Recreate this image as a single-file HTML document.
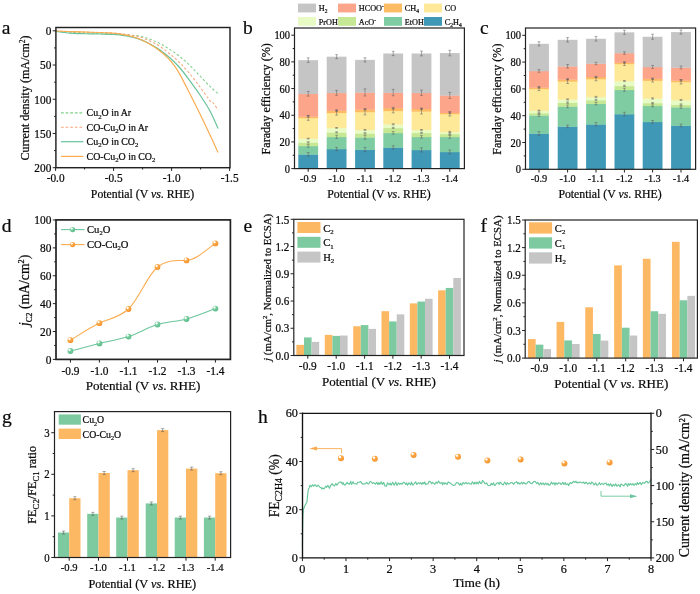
<!DOCTYPE html>
<html><head><meta charset="utf-8"><title>Figure</title>
<style>
html,body{margin:0;padding:0;background:#fff;}
svg{display:block;font-family:'Liberation Serif', 'Times New Roman', serif;}
text{fill:#0a0a0a;stroke:#0a0a0a;stroke-width:0.22px;}
</style></head><body>
<svg width="700" height="594" viewBox="0 0 700 594">
<rect width="700" height="594" fill="#fff"/>
<defs>
<radialGradient id="go" cx="0.34" cy="0.30" r="0.72"><stop offset="0" stop-color="#ffffff"/><stop offset="0.16" stop-color="#ffffff"/><stop offset="0.36" stop-color="#fcab4c"/><stop offset="1" stop-color="#f5932a"/></radialGradient>
<radialGradient id="gg" cx="0.34" cy="0.30" r="0.72"><stop offset="0" stop-color="#ffffff"/><stop offset="0.16" stop-color="#ffffff"/><stop offset="0.36" stop-color="#7ed0a3"/><stop offset="1" stop-color="#58ba88"/></radialGradient>
</defs>
<path d="M55.60,31.20 C58.00,31.37 64.27,31.90 70.00,32.20 C75.73,32.50 82.73,32.77 90.00,33.00 C97.27,33.23 108.60,33.40 113.60,33.60 C118.60,33.80 117.27,33.97 120.00,34.20 C122.73,34.43 126.67,34.67 130.00,35.00 C133.33,35.33 136.67,35.50 140.00,36.20 C143.33,36.90 146.67,37.97 150.00,39.20 C153.33,40.43 156.67,41.87 160.00,43.60 C163.33,45.33 166.67,47.43 170.00,49.60 C173.33,51.77 176.67,53.93 180.00,56.60 C183.33,59.27 186.67,62.37 190.00,65.60 C193.33,68.83 196.67,72.53 200.00,76.00 C203.33,79.47 207.00,83.47 210.00,86.40 C213.00,89.33 216.67,92.40 218.00,93.60" fill="none" stroke="#7fd08a" stroke-width="1.05" stroke-dasharray="2.5,2.0" stroke-linejoin="round"/>
<path d="M55.60,31.00 C58.00,31.10 64.27,31.40 70.00,31.60 C75.73,31.80 82.73,31.97 90.00,32.20 C97.27,32.43 108.60,32.77 113.60,33.00 C118.60,33.23 117.27,33.27 120.00,33.60 C122.73,33.93 126.67,34.43 130.00,35.00 C133.33,35.57 136.67,36.00 140.00,37.00 C143.33,38.00 146.67,39.43 150.00,41.00 C153.33,42.57 156.67,44.23 160.00,46.40 C163.33,48.57 166.67,51.23 170.00,54.00 C173.33,56.77 176.67,59.67 180.00,63.00 C183.33,66.33 186.67,70.00 190.00,74.00 C193.33,78.00 197.00,83.00 200.00,87.00 C203.00,91.00 206.33,95.67 208.00,98.00 C209.67,100.33 209.33,100.42 210.00,101.00 C210.67,101.58 211.33,101.00 212.00,101.50 C212.67,102.00 213.00,102.58 214.00,104.00 C215.00,105.42 217.33,109.00 218.00,110.00" fill="none" stroke="#f7a67c" stroke-width="1.05" stroke-dasharray="2.5,2.0" stroke-linejoin="round"/>
<path d="M55.60,31.40 C56.67,31.53 59.60,31.90 62.00,32.20 C64.40,32.50 67.00,32.97 70.00,33.20 C73.00,33.43 76.67,33.50 80.00,33.60 C83.33,33.70 86.67,33.73 90.00,33.80 C93.33,33.87 96.07,33.90 100.00,34.00 C103.93,34.10 110.27,34.23 113.60,34.40 C116.93,34.57 117.27,34.63 120.00,35.00 C122.73,35.37 126.67,35.87 130.00,36.60 C133.33,37.33 136.67,38.17 140.00,39.40 C143.33,40.63 146.67,42.23 150.00,44.00 C153.33,45.77 156.67,47.67 160.00,50.00 C163.33,52.33 166.67,55.00 170.00,58.00 C173.33,61.00 176.67,64.17 180.00,68.00 C183.33,71.83 186.67,76.50 190.00,81.00 C193.33,85.50 196.67,90.00 200.00,95.00 C203.33,100.00 207.00,105.43 210.00,111.00 C213.00,116.57 216.67,125.50 218.00,128.40" fill="none" stroke="#68c39a" stroke-width="1.2" stroke-linejoin="round"/>
<path d="M55.60,31.00 C58.00,31.10 64.27,31.40 70.00,31.60 C75.73,31.80 84.17,32.00 90.00,32.20 C95.83,32.40 101.07,32.63 105.00,32.80 C108.93,32.97 111.10,33.00 113.60,33.20 C116.10,33.40 117.27,33.53 120.00,34.00 C122.73,34.47 126.67,35.12 130.00,36.00 C133.33,36.88 136.67,37.92 140.00,39.30 C143.33,40.68 146.67,42.35 150.00,44.30 C153.33,46.25 157.00,48.68 160.00,51.00 C163.00,53.32 165.50,55.60 168.00,58.20 C170.50,60.80 173.00,63.87 175.00,66.60 C177.00,69.33 177.50,70.03 180.00,74.60 C182.50,79.17 186.67,87.43 190.00,94.00 C193.33,100.57 196.67,107.17 200.00,114.00 C203.33,120.83 207.00,128.60 210.00,135.00 C213.00,141.40 216.67,149.50 218.00,152.40" fill="none" stroke="#f9ab4e" stroke-width="1.15" stroke-linejoin="round"/>
<rect x="55.90" y="27.50" width="174.10" height="140.20" fill="none" stroke="#222" stroke-width="1.45"/>
<line x1="55.90" y1="30.80" x2="52.70" y2="30.80" stroke="#222" stroke-width="1.0" />
<line x1="55.90" y1="65.03" x2="52.70" y2="65.03" stroke="#222" stroke-width="1.0" />
<line x1="55.90" y1="99.25" x2="52.70" y2="99.25" stroke="#222" stroke-width="1.0" />
<line x1="55.90" y1="133.47" x2="52.70" y2="133.47" stroke="#222" stroke-width="1.0" />
<line x1="55.90" y1="167.70" x2="52.70" y2="167.70" stroke="#222" stroke-width="1.0" />
<line x1="55.90" y1="47.91" x2="54.10" y2="47.91" stroke="#222" stroke-width="1.0" />
<line x1="55.90" y1="82.14" x2="54.10" y2="82.14" stroke="#222" stroke-width="1.0" />
<line x1="55.90" y1="116.36" x2="54.10" y2="116.36" stroke="#222" stroke-width="1.0" />
<line x1="55.90" y1="150.59" x2="54.10" y2="150.59" stroke="#222" stroke-width="1.0" />
<line x1="55.60" y1="167.70" x2="55.60" y2="170.90" stroke="#222" stroke-width="1.0" />
<line x1="113.60" y1="167.70" x2="113.60" y2="170.90" stroke="#222" stroke-width="1.0" />
<line x1="171.60" y1="167.70" x2="171.60" y2="170.90" stroke="#222" stroke-width="1.0" />
<line x1="229.60" y1="167.70" x2="229.60" y2="170.90" stroke="#222" stroke-width="1.0" />
<line x1="84.60" y1="167.70" x2="84.60" y2="169.50" stroke="#222" stroke-width="1.0" />
<line x1="142.60" y1="167.70" x2="142.60" y2="169.50" stroke="#222" stroke-width="1.0" />
<line x1="200.60" y1="167.70" x2="200.60" y2="169.50" stroke="#222" stroke-width="1.0" />
<text transform="translate(51.30 35.10) scale(1 1.12)" font-size="11.3" text-anchor="end" >0</text>
<text transform="translate(51.30 69.33) scale(1 1.12)" font-size="11.3" text-anchor="end" >50</text>
<text transform="translate(51.30 103.55) scale(1 1.12)" font-size="11.3" text-anchor="end" >100</text>
<text transform="translate(51.30 137.78) scale(1 1.12)" font-size="11.3" text-anchor="end" >150</text>
<text transform="translate(51.30 172.00) scale(1 1.12)" font-size="11.3" text-anchor="end" >200</text>
<text transform="translate(55.60 181.90) scale(1 1.07)" font-size="11.3" text-anchor="middle" >-0.0</text>
<text transform="translate(113.60 181.90) scale(1 1.07)" font-size="11.3" text-anchor="middle" >-0.5</text>
<text transform="translate(171.60 181.90) scale(1 1.07)" font-size="11.3" text-anchor="middle" >-1.0</text>
<text transform="translate(229.60 181.90) scale(1 1.07)" font-size="11.3" text-anchor="middle" >-1.5</text>
<text x="142.50" y="197.60" font-size="11.8" text-anchor="middle" >Potential (V <tspan font-style="italic">vs</tspan>. RHE)</text>
<text x="29.20" y="97.90" font-size="12" text-anchor="middle" transform="rotate(-90 29.20 97.90)" >Current density (mA/cm<tspan font-size="7.5" dy="-4.12">2</tspan><tspan dy="4.12">)</tspan></text>
<line x1="61.00" y1="112.90" x2="83.40" y2="112.90" stroke="#7fd08a" stroke-width="1.15" stroke-dasharray="2.8,1.8"/>
<text x="86.60" y="116.20" font-size="9.9" text-anchor="start" >Cu<tspan font-size="6.8" dy="2.38">2</tspan><tspan dy="-2.38">O in Ar</tspan></text>
<line x1="61.00" y1="127.20" x2="83.40" y2="127.20" stroke="#f7a67c" stroke-width="1.15" stroke-dasharray="2.8,1.8"/>
<text x="86.60" y="130.50" font-size="9.9" text-anchor="start" >CO-Cu<tspan font-size="6.8" dy="2.38">2</tspan><tspan dy="-2.38">O in Ar</tspan></text>
<line x1="61.00" y1="141.70" x2="83.40" y2="141.70" stroke="#68c39a" stroke-width="1.2" />
<text x="86.60" y="145.00" font-size="9.9" text-anchor="start" >Cu<tspan font-size="6.8" dy="2.38">2</tspan><tspan dy="-2.38">O in CO</tspan><tspan font-size="6.8" dy="2.38">2</tspan></text>
<line x1="61.00" y1="156.40" x2="83.40" y2="156.40" stroke="#f9ab4e" stroke-width="1.2" />
<text x="86.60" y="159.70" font-size="9.9" text-anchor="start" >CO-Cu<tspan font-size="6.8" dy="2.38">2</tspan><tspan dy="-2.38">O in CO</tspan><tspan font-size="6.8" dy="2.38">2</tspan></text>
<text x="1.80" y="33.80" font-size="19.5" text-anchor="start" >a</text>
<rect x="298.30" y="154.33" width="19.80" height="14.57" fill="#3f98b6"/>
<rect x="298.30" y="145.92" width="19.80" height="8.70" fill="#7fcca3"/>
<rect x="298.30" y="142.32" width="19.80" height="3.90" fill="#c6e793"/>
<rect x="298.30" y="138.59" width="19.80" height="4.04" fill="#e8fbc4"/>
<rect x="298.30" y="117.91" width="19.80" height="20.98" fill="#fee999"/>
<rect x="298.30" y="116.44" width="19.80" height="1.77" fill="#fdbb63"/>
<rect x="298.30" y="93.76" width="19.80" height="22.98" fill="#fca58a"/>
<rect x="298.30" y="60.15" width="19.80" height="33.92" fill="#c5c5c5"/>
<line x1="308.20" y1="152.50" x2="308.20" y2="156.15" stroke="#5a5a5a" stroke-width="0.5" />
<line x1="306.80" y1="152.50" x2="309.60" y2="152.50" stroke="#5a5a5a" stroke-width="0.5" />
<line x1="306.80" y1="156.15" x2="309.60" y2="156.15" stroke="#5a5a5a" stroke-width="0.5" />
<line x1="308.20" y1="144.60" x2="308.20" y2="147.24" stroke="#5a5a5a" stroke-width="0.5" />
<line x1="306.80" y1="144.60" x2="309.60" y2="144.60" stroke="#5a5a5a" stroke-width="0.5" />
<line x1="306.80" y1="147.24" x2="309.60" y2="147.24" stroke="#5a5a5a" stroke-width="0.5" />
<line x1="308.20" y1="141.67" x2="308.20" y2="142.97" stroke="#5a5a5a" stroke-width="0.5" />
<line x1="306.80" y1="141.67" x2="309.60" y2="141.67" stroke="#5a5a5a" stroke-width="0.5" />
<line x1="306.80" y1="142.97" x2="309.60" y2="142.97" stroke="#5a5a5a" stroke-width="0.5" />
<line x1="308.20" y1="138.19" x2="308.20" y2="138.98" stroke="#5a5a5a" stroke-width="0.5" />
<line x1="306.80" y1="138.19" x2="309.60" y2="138.19" stroke="#5a5a5a" stroke-width="0.5" />
<line x1="306.80" y1="138.98" x2="309.60" y2="138.98" stroke="#5a5a5a" stroke-width="0.5" />
<line x1="308.20" y1="115.46" x2="308.20" y2="120.35" stroke="#5a5a5a" stroke-width="0.5" />
<line x1="306.80" y1="115.46" x2="309.60" y2="115.46" stroke="#5a5a5a" stroke-width="0.5" />
<line x1="306.80" y1="120.35" x2="309.60" y2="120.35" stroke="#5a5a5a" stroke-width="0.5" />
<line x1="308.20" y1="115.79" x2="308.20" y2="117.09" stroke="#5a5a5a" stroke-width="0.5" />
<line x1="306.80" y1="115.79" x2="309.60" y2="115.79" stroke="#5a5a5a" stroke-width="0.5" />
<line x1="306.80" y1="117.09" x2="309.60" y2="117.09" stroke="#5a5a5a" stroke-width="0.5" />
<line x1="308.20" y1="91.43" x2="308.20" y2="96.10" stroke="#5a5a5a" stroke-width="0.5" />
<line x1="306.80" y1="91.43" x2="309.60" y2="91.43" stroke="#5a5a5a" stroke-width="0.5" />
<line x1="306.80" y1="96.10" x2="309.60" y2="96.10" stroke="#5a5a5a" stroke-width="0.5" />
<line x1="308.20" y1="57.84" x2="308.20" y2="62.45" stroke="#5a5a5a" stroke-width="0.5" />
<line x1="306.80" y1="57.84" x2="309.60" y2="57.84" stroke="#5a5a5a" stroke-width="0.5" />
<line x1="306.80" y1="62.45" x2="309.60" y2="62.45" stroke="#5a5a5a" stroke-width="0.5" />
<rect x="326.70" y="148.99" width="19.80" height="19.91" fill="#3f98b6"/>
<rect x="326.70" y="136.85" width="19.80" height="12.44" fill="#7fcca3"/>
<rect x="326.70" y="132.32" width="19.80" height="4.84" fill="#c6e793"/>
<rect x="326.70" y="127.91" width="19.80" height="4.70" fill="#e8fbc4"/>
<rect x="326.70" y="112.84" width="19.80" height="15.37" fill="#fee999"/>
<rect x="326.70" y="110.57" width="19.80" height="2.57" fill="#fdbb63"/>
<rect x="326.70" y="92.83" width="19.80" height="18.04" fill="#fca58a"/>
<rect x="326.70" y="56.68" width="19.80" height="36.45" fill="#c5c5c5"/>
<line x1="336.60" y1="147.45" x2="336.60" y2="150.53" stroke="#5a5a5a" stroke-width="0.5" />
<line x1="335.20" y1="147.45" x2="338.00" y2="147.45" stroke="#5a5a5a" stroke-width="0.5" />
<line x1="335.20" y1="150.53" x2="338.00" y2="150.53" stroke="#5a5a5a" stroke-width="0.5" />
<line x1="336.60" y1="135.30" x2="336.60" y2="138.40" stroke="#5a5a5a" stroke-width="0.5" />
<line x1="335.20" y1="135.30" x2="338.00" y2="135.30" stroke="#5a5a5a" stroke-width="0.5" />
<line x1="335.20" y1="138.40" x2="338.00" y2="138.40" stroke="#5a5a5a" stroke-width="0.5" />
<line x1="336.60" y1="131.84" x2="336.60" y2="132.79" stroke="#5a5a5a" stroke-width="0.5" />
<line x1="335.20" y1="131.84" x2="338.00" y2="131.84" stroke="#5a5a5a" stroke-width="0.5" />
<line x1="335.20" y1="132.79" x2="338.00" y2="132.79" stroke="#5a5a5a" stroke-width="0.5" />
<line x1="336.60" y1="127.52" x2="336.60" y2="128.31" stroke="#5a5a5a" stroke-width="0.5" />
<line x1="335.20" y1="127.52" x2="338.00" y2="127.52" stroke="#5a5a5a" stroke-width="0.5" />
<line x1="335.20" y1="128.31" x2="338.00" y2="128.31" stroke="#5a5a5a" stroke-width="0.5" />
<line x1="336.60" y1="110.53" x2="336.60" y2="115.15" stroke="#5a5a5a" stroke-width="0.5" />
<line x1="335.20" y1="110.53" x2="338.00" y2="110.53" stroke="#5a5a5a" stroke-width="0.5" />
<line x1="335.20" y1="115.15" x2="338.00" y2="115.15" stroke="#5a5a5a" stroke-width="0.5" />
<line x1="336.60" y1="109.76" x2="336.60" y2="111.39" stroke="#5a5a5a" stroke-width="0.5" />
<line x1="335.20" y1="109.76" x2="338.00" y2="109.76" stroke="#5a5a5a" stroke-width="0.5" />
<line x1="335.20" y1="111.39" x2="338.00" y2="111.39" stroke="#5a5a5a" stroke-width="0.5" />
<line x1="336.60" y1="90.39" x2="336.60" y2="95.26" stroke="#5a5a5a" stroke-width="0.5" />
<line x1="335.20" y1="90.39" x2="338.00" y2="90.39" stroke="#5a5a5a" stroke-width="0.5" />
<line x1="335.20" y1="95.26" x2="338.00" y2="95.26" stroke="#5a5a5a" stroke-width="0.5" />
<line x1="336.60" y1="54.70" x2="336.60" y2="58.66" stroke="#5a5a5a" stroke-width="0.5" />
<line x1="335.20" y1="54.70" x2="338.00" y2="54.70" stroke="#5a5a5a" stroke-width="0.5" />
<line x1="335.20" y1="58.66" x2="338.00" y2="58.66" stroke="#5a5a5a" stroke-width="0.5" />
<rect x="355.10" y="149.52" width="19.80" height="19.38" fill="#3f98b6"/>
<rect x="355.10" y="137.25" width="19.80" height="12.57" fill="#7fcca3"/>
<rect x="355.10" y="133.25" width="19.80" height="4.30" fill="#c6e793"/>
<rect x="355.10" y="129.91" width="19.80" height="3.64" fill="#e8fbc4"/>
<rect x="355.10" y="111.91" width="19.80" height="18.31" fill="#fee999"/>
<rect x="355.10" y="109.37" width="19.80" height="2.83" fill="#fdbb63"/>
<rect x="355.10" y="92.43" width="19.80" height="17.24" fill="#fca58a"/>
<rect x="355.10" y="59.88" width="19.80" height="32.85" fill="#c5c5c5"/>
<line x1="365.00" y1="147.40" x2="365.00" y2="151.65" stroke="#5a5a5a" stroke-width="0.5" />
<line x1="363.60" y1="147.40" x2="366.40" y2="147.40" stroke="#5a5a5a" stroke-width="0.5" />
<line x1="363.60" y1="151.65" x2="366.40" y2="151.65" stroke="#5a5a5a" stroke-width="0.5" />
<line x1="365.00" y1="135.29" x2="365.00" y2="139.21" stroke="#5a5a5a" stroke-width="0.5" />
<line x1="363.60" y1="135.29" x2="366.40" y2="135.29" stroke="#5a5a5a" stroke-width="0.5" />
<line x1="363.60" y1="139.21" x2="366.40" y2="139.21" stroke="#5a5a5a" stroke-width="0.5" />
<line x1="365.00" y1="132.63" x2="365.00" y2="133.87" stroke="#5a5a5a" stroke-width="0.5" />
<line x1="363.60" y1="132.63" x2="366.40" y2="132.63" stroke="#5a5a5a" stroke-width="0.5" />
<line x1="363.60" y1="133.87" x2="366.40" y2="133.87" stroke="#5a5a5a" stroke-width="0.5" />
<line x1="365.00" y1="129.44" x2="365.00" y2="130.39" stroke="#5a5a5a" stroke-width="0.5" />
<line x1="363.60" y1="129.44" x2="366.40" y2="129.44" stroke="#5a5a5a" stroke-width="0.5" />
<line x1="363.60" y1="130.39" x2="366.40" y2="130.39" stroke="#5a5a5a" stroke-width="0.5" />
<line x1="365.00" y1="108.93" x2="365.00" y2="114.88" stroke="#5a5a5a" stroke-width="0.5" />
<line x1="363.60" y1="108.93" x2="366.40" y2="108.93" stroke="#5a5a5a" stroke-width="0.5" />
<line x1="363.60" y1="114.88" x2="366.40" y2="114.88" stroke="#5a5a5a" stroke-width="0.5" />
<line x1="365.00" y1="108.83" x2="365.00" y2="109.91" stroke="#5a5a5a" stroke-width="0.5" />
<line x1="363.60" y1="108.83" x2="366.40" y2="108.83" stroke="#5a5a5a" stroke-width="0.5" />
<line x1="363.60" y1="109.91" x2="366.40" y2="109.91" stroke="#5a5a5a" stroke-width="0.5" />
<line x1="365.00" y1="88.89" x2="365.00" y2="95.97" stroke="#5a5a5a" stroke-width="0.5" />
<line x1="363.60" y1="88.89" x2="366.40" y2="88.89" stroke="#5a5a5a" stroke-width="0.5" />
<line x1="363.60" y1="95.97" x2="366.40" y2="95.97" stroke="#5a5a5a" stroke-width="0.5" />
<line x1="365.00" y1="57.82" x2="365.00" y2="61.94" stroke="#5a5a5a" stroke-width="0.5" />
<line x1="363.60" y1="57.82" x2="366.40" y2="57.82" stroke="#5a5a5a" stroke-width="0.5" />
<line x1="363.60" y1="61.94" x2="366.40" y2="61.94" stroke="#5a5a5a" stroke-width="0.5" />
<rect x="383.30" y="147.39" width="19.80" height="21.51" fill="#3f98b6"/>
<rect x="383.30" y="132.85" width="19.80" height="14.84" fill="#7fcca3"/>
<rect x="383.30" y="127.91" width="19.80" height="5.24" fill="#c6e793"/>
<rect x="383.30" y="124.31" width="19.80" height="3.90" fill="#e8fbc4"/>
<rect x="383.30" y="110.84" width="19.80" height="13.77" fill="#fee999"/>
<rect x="383.30" y="108.04" width="19.80" height="3.10" fill="#fdbb63"/>
<rect x="383.30" y="92.56" width="19.80" height="15.77" fill="#fca58a"/>
<rect x="383.30" y="53.48" width="19.80" height="39.39" fill="#c5c5c5"/>
<line x1="393.20" y1="145.75" x2="393.20" y2="149.03" stroke="#5a5a5a" stroke-width="0.5" />
<line x1="391.80" y1="145.75" x2="394.60" y2="145.75" stroke="#5a5a5a" stroke-width="0.5" />
<line x1="391.80" y1="149.03" x2="394.60" y2="149.03" stroke="#5a5a5a" stroke-width="0.5" />
<line x1="393.20" y1="131.55" x2="393.20" y2="134.14" stroke="#5a5a5a" stroke-width="0.5" />
<line x1="391.80" y1="131.55" x2="394.60" y2="131.55" stroke="#5a5a5a" stroke-width="0.5" />
<line x1="391.80" y1="134.14" x2="394.60" y2="134.14" stroke="#5a5a5a" stroke-width="0.5" />
<line x1="393.20" y1="127.37" x2="393.20" y2="128.46" stroke="#5a5a5a" stroke-width="0.5" />
<line x1="391.80" y1="127.37" x2="394.60" y2="127.37" stroke="#5a5a5a" stroke-width="0.5" />
<line x1="391.80" y1="128.46" x2="394.60" y2="128.46" stroke="#5a5a5a" stroke-width="0.5" />
<line x1="393.20" y1="123.73" x2="393.20" y2="124.89" stroke="#5a5a5a" stroke-width="0.5" />
<line x1="391.80" y1="123.73" x2="394.60" y2="123.73" stroke="#5a5a5a" stroke-width="0.5" />
<line x1="391.80" y1="124.89" x2="394.60" y2="124.89" stroke="#5a5a5a" stroke-width="0.5" />
<line x1="393.20" y1="108.82" x2="393.20" y2="112.85" stroke="#5a5a5a" stroke-width="0.5" />
<line x1="391.80" y1="108.82" x2="394.60" y2="108.82" stroke="#5a5a5a" stroke-width="0.5" />
<line x1="391.80" y1="112.85" x2="394.60" y2="112.85" stroke="#5a5a5a" stroke-width="0.5" />
<line x1="393.20" y1="107.31" x2="393.20" y2="108.76" stroke="#5a5a5a" stroke-width="0.5" />
<line x1="391.80" y1="107.31" x2="394.60" y2="107.31" stroke="#5a5a5a" stroke-width="0.5" />
<line x1="391.80" y1="108.76" x2="394.60" y2="108.76" stroke="#5a5a5a" stroke-width="0.5" />
<line x1="393.20" y1="89.35" x2="393.20" y2="95.77" stroke="#5a5a5a" stroke-width="0.5" />
<line x1="391.80" y1="89.35" x2="394.60" y2="89.35" stroke="#5a5a5a" stroke-width="0.5" />
<line x1="391.80" y1="95.77" x2="394.60" y2="95.77" stroke="#5a5a5a" stroke-width="0.5" />
<line x1="393.20" y1="51.32" x2="393.20" y2="55.63" stroke="#5a5a5a" stroke-width="0.5" />
<line x1="391.80" y1="51.32" x2="394.60" y2="51.32" stroke="#5a5a5a" stroke-width="0.5" />
<line x1="391.80" y1="55.63" x2="394.60" y2="55.63" stroke="#5a5a5a" stroke-width="0.5" />
<rect x="411.60" y="149.92" width="19.80" height="18.98" fill="#3f98b6"/>
<rect x="411.60" y="136.85" width="19.80" height="13.37" fill="#7fcca3"/>
<rect x="411.60" y="132.85" width="19.80" height="4.30" fill="#c6e793"/>
<rect x="411.60" y="129.91" width="19.80" height="3.23" fill="#e8fbc4"/>
<rect x="411.60" y="111.37" width="19.80" height="18.84" fill="#fee999"/>
<rect x="411.60" y="108.70" width="19.80" height="2.97" fill="#fdbb63"/>
<rect x="411.60" y="92.83" width="19.80" height="16.17" fill="#fca58a"/>
<rect x="411.60" y="53.48" width="19.80" height="39.65" fill="#c5c5c5"/>
<line x1="421.50" y1="147.88" x2="421.50" y2="151.97" stroke="#5a5a5a" stroke-width="0.5" />
<line x1="420.10" y1="147.88" x2="422.90" y2="147.88" stroke="#5a5a5a" stroke-width="0.5" />
<line x1="420.10" y1="151.97" x2="422.90" y2="151.97" stroke="#5a5a5a" stroke-width="0.5" />
<line x1="421.50" y1="135.60" x2="421.50" y2="138.10" stroke="#5a5a5a" stroke-width="0.5" />
<line x1="420.10" y1="135.60" x2="422.90" y2="135.60" stroke="#5a5a5a" stroke-width="0.5" />
<line x1="420.10" y1="138.10" x2="422.90" y2="138.10" stroke="#5a5a5a" stroke-width="0.5" />
<line x1="421.50" y1="132.38" x2="421.50" y2="133.32" stroke="#5a5a5a" stroke-width="0.5" />
<line x1="420.10" y1="132.38" x2="422.90" y2="132.38" stroke="#5a5a5a" stroke-width="0.5" />
<line x1="420.10" y1="133.32" x2="422.90" y2="133.32" stroke="#5a5a5a" stroke-width="0.5" />
<line x1="421.50" y1="129.49" x2="421.50" y2="130.34" stroke="#5a5a5a" stroke-width="0.5" />
<line x1="420.10" y1="129.49" x2="422.90" y2="129.49" stroke="#5a5a5a" stroke-width="0.5" />
<line x1="420.10" y1="130.34" x2="422.90" y2="130.34" stroke="#5a5a5a" stroke-width="0.5" />
<line x1="421.50" y1="108.75" x2="421.50" y2="113.99" stroke="#5a5a5a" stroke-width="0.5" />
<line x1="420.10" y1="108.75" x2="422.90" y2="108.75" stroke="#5a5a5a" stroke-width="0.5" />
<line x1="420.10" y1="113.99" x2="422.90" y2="113.99" stroke="#5a5a5a" stroke-width="0.5" />
<line x1="421.50" y1="108.03" x2="421.50" y2="109.38" stroke="#5a5a5a" stroke-width="0.5" />
<line x1="420.10" y1="108.03" x2="422.90" y2="108.03" stroke="#5a5a5a" stroke-width="0.5" />
<line x1="420.10" y1="109.38" x2="422.90" y2="109.38" stroke="#5a5a5a" stroke-width="0.5" />
<line x1="421.50" y1="90.11" x2="421.50" y2="95.55" stroke="#5a5a5a" stroke-width="0.5" />
<line x1="420.10" y1="90.11" x2="422.90" y2="90.11" stroke="#5a5a5a" stroke-width="0.5" />
<line x1="420.10" y1="95.55" x2="422.90" y2="95.55" stroke="#5a5a5a" stroke-width="0.5" />
<line x1="421.50" y1="51.08" x2="421.50" y2="55.87" stroke="#5a5a5a" stroke-width="0.5" />
<line x1="420.10" y1="51.08" x2="422.90" y2="51.08" stroke="#5a5a5a" stroke-width="0.5" />
<line x1="420.10" y1="55.87" x2="422.90" y2="55.87" stroke="#5a5a5a" stroke-width="0.5" />
<rect x="439.90" y="151.93" width="19.80" height="16.97" fill="#3f98b6"/>
<rect x="439.90" y="136.85" width="19.80" height="15.37" fill="#7fcca3"/>
<rect x="439.90" y="133.92" width="19.80" height="3.23" fill="#c6e793"/>
<rect x="439.90" y="131.91" width="19.80" height="2.30" fill="#e8fbc4"/>
<rect x="439.90" y="113.91" width="19.80" height="18.31" fill="#fee999"/>
<rect x="439.90" y="112.71" width="19.80" height="1.50" fill="#fdbb63"/>
<rect x="439.90" y="95.36" width="19.80" height="17.64" fill="#fca58a"/>
<rect x="439.90" y="53.08" width="19.80" height="42.59" fill="#c5c5c5"/>
<line x1="449.80" y1="149.97" x2="449.80" y2="153.88" stroke="#5a5a5a" stroke-width="0.5" />
<line x1="448.40" y1="149.97" x2="451.20" y2="149.97" stroke="#5a5a5a" stroke-width="0.5" />
<line x1="448.40" y1="153.88" x2="451.20" y2="153.88" stroke="#5a5a5a" stroke-width="0.5" />
<line x1="449.80" y1="135.41" x2="449.80" y2="138.29" stroke="#5a5a5a" stroke-width="0.5" />
<line x1="448.40" y1="135.41" x2="451.20" y2="135.41" stroke="#5a5a5a" stroke-width="0.5" />
<line x1="448.40" y1="138.29" x2="451.20" y2="138.29" stroke="#5a5a5a" stroke-width="0.5" />
<line x1="449.80" y1="133.23" x2="449.80" y2="134.60" stroke="#5a5a5a" stroke-width="0.5" />
<line x1="448.40" y1="133.23" x2="451.20" y2="133.23" stroke="#5a5a5a" stroke-width="0.5" />
<line x1="448.40" y1="134.60" x2="451.20" y2="134.60" stroke="#5a5a5a" stroke-width="0.5" />
<line x1="449.80" y1="131.37" x2="449.80" y2="132.46" stroke="#5a5a5a" stroke-width="0.5" />
<line x1="448.40" y1="131.37" x2="451.20" y2="131.37" stroke="#5a5a5a" stroke-width="0.5" />
<line x1="448.40" y1="132.46" x2="451.20" y2="132.46" stroke="#5a5a5a" stroke-width="0.5" />
<line x1="449.80" y1="111.81" x2="449.80" y2="116.00" stroke="#5a5a5a" stroke-width="0.5" />
<line x1="448.40" y1="111.81" x2="451.20" y2="111.81" stroke="#5a5a5a" stroke-width="0.5" />
<line x1="448.40" y1="116.00" x2="451.20" y2="116.00" stroke="#5a5a5a" stroke-width="0.5" />
<line x1="449.80" y1="111.98" x2="449.80" y2="113.43" stroke="#5a5a5a" stroke-width="0.5" />
<line x1="448.40" y1="111.98" x2="451.20" y2="111.98" stroke="#5a5a5a" stroke-width="0.5" />
<line x1="448.40" y1="113.43" x2="451.20" y2="113.43" stroke="#5a5a5a" stroke-width="0.5" />
<line x1="449.80" y1="92.33" x2="449.80" y2="98.40" stroke="#5a5a5a" stroke-width="0.5" />
<line x1="448.40" y1="92.33" x2="451.20" y2="92.33" stroke="#5a5a5a" stroke-width="0.5" />
<line x1="448.40" y1="98.40" x2="451.20" y2="98.40" stroke="#5a5a5a" stroke-width="0.5" />
<line x1="449.80" y1="50.34" x2="449.80" y2="55.81" stroke="#5a5a5a" stroke-width="0.5" />
<line x1="448.40" y1="50.34" x2="451.20" y2="50.34" stroke="#5a5a5a" stroke-width="0.5" />
<line x1="448.40" y1="55.81" x2="451.20" y2="55.81" stroke="#5a5a5a" stroke-width="0.5" />
<rect x="294.50" y="28.00" width="169.90" height="140.60" fill="none" stroke="#222" stroke-width="1.2"/>
<line x1="294.50" y1="168.60" x2="291.30" y2="168.60" stroke="#222" stroke-width="1.0" />
<line x1="294.50" y1="141.92" x2="291.30" y2="141.92" stroke="#222" stroke-width="1.0" />
<line x1="294.50" y1="115.24" x2="291.30" y2="115.24" stroke="#222" stroke-width="1.0" />
<line x1="294.50" y1="88.56" x2="291.30" y2="88.56" stroke="#222" stroke-width="1.0" />
<line x1="294.50" y1="61.88" x2="291.30" y2="61.88" stroke="#222" stroke-width="1.0" />
<line x1="294.50" y1="35.20" x2="291.30" y2="35.20" stroke="#222" stroke-width="1.0" />
<line x1="294.50" y1="155.26" x2="292.70" y2="155.26" stroke="#222" stroke-width="1.0" />
<line x1="294.50" y1="128.58" x2="292.70" y2="128.58" stroke="#222" stroke-width="1.0" />
<line x1="294.50" y1="101.90" x2="292.70" y2="101.90" stroke="#222" stroke-width="1.0" />
<line x1="294.50" y1="75.22" x2="292.70" y2="75.22" stroke="#222" stroke-width="1.0" />
<line x1="294.50" y1="48.54" x2="292.70" y2="48.54" stroke="#222" stroke-width="1.0" />
<line x1="308.20" y1="168.60" x2="308.20" y2="171.80" stroke="#222" stroke-width="1.0" />
<line x1="336.60" y1="168.60" x2="336.60" y2="171.80" stroke="#222" stroke-width="1.0" />
<line x1="365.00" y1="168.60" x2="365.00" y2="171.80" stroke="#222" stroke-width="1.0" />
<line x1="393.20" y1="168.60" x2="393.20" y2="171.80" stroke="#222" stroke-width="1.0" />
<line x1="421.50" y1="168.60" x2="421.50" y2="171.80" stroke="#222" stroke-width="1.0" />
<line x1="449.80" y1="168.60" x2="449.80" y2="171.80" stroke="#222" stroke-width="1.0" />
<text transform="translate(290.10 172.60) scale(1 1.12)" font-size="10.5" text-anchor="end" >0</text>
<text transform="translate(290.10 145.92) scale(1 1.12)" font-size="10.5" text-anchor="end" >20</text>
<text transform="translate(290.10 119.24) scale(1 1.12)" font-size="10.5" text-anchor="end" >40</text>
<text transform="translate(290.10 92.56) scale(1 1.12)" font-size="10.5" text-anchor="end" >60</text>
<text transform="translate(290.10 65.88) scale(1 1.12)" font-size="10.5" text-anchor="end" >80</text>
<text transform="translate(290.10 39.20) scale(1 1.12)" font-size="10.5" text-anchor="end" >100</text>
<text transform="translate(308.20 181.60) scale(1 1.04)" font-size="10.3" text-anchor="middle" >-0.9</text>
<text transform="translate(336.60 181.60) scale(1 1.04)" font-size="10.3" text-anchor="middle" >-1.0</text>
<text transform="translate(365.00 181.60) scale(1 1.04)" font-size="10.3" text-anchor="middle" >-1.1</text>
<text transform="translate(393.20 181.60) scale(1 1.04)" font-size="10.3" text-anchor="middle" >-1.2</text>
<text transform="translate(421.50 181.60) scale(1 1.04)" font-size="10.3" text-anchor="middle" >-1.3</text>
<text transform="translate(449.80 181.60) scale(1 1.04)" font-size="10.3" text-anchor="middle" >-1.4</text>
<text x="378.95" y="198.20" font-size="11.8" text-anchor="middle" >Potential (V <tspan font-style="italic">vs</tspan>. RHE)</text>
<text x="269.90" y="98.80" font-size="12.1" text-anchor="middle" transform="rotate(-90 269.90 98.80)" >Faraday efficiency (%)</text>
<text x="243.00" y="34.00" font-size="19.5" text-anchor="start" >b</text>
<rect x="298.00" y="3.60" width="18.00" height="8.80" fill="#c5c5c5"/>
<text x="318.80" y="11.20" font-size="8.2" text-anchor="start" >H<tspan font-size="5.5" dy="1.92">2</tspan></text>
<rect x="338.00" y="3.60" width="18.00" height="8.80" fill="#fca58a"/>
<text x="358.80" y="11.20" font-size="8.2" text-anchor="start" >HCOO<tspan font-size="5" dy="-2.75">-</tspan></text>
<rect x="384.00" y="3.60" width="18.00" height="8.80" fill="#fdbb63"/>
<text x="404.80" y="11.20" font-size="8.2" text-anchor="start" >CH<tspan font-size="5.5" dy="1.92">4</tspan></text>
<rect x="424.00" y="3.60" width="18.00" height="8.80" fill="#fee999"/>
<text x="444.80" y="11.20" font-size="8.2" text-anchor="start" >CO</text>
<rect x="298.00" y="17.00" width="18.00" height="8.80" fill="#e8fbc4"/>
<text x="318.80" y="24.60" font-size="8.2" text-anchor="start" >PrOH</text>
<rect x="338.00" y="17.00" width="18.00" height="8.80" fill="#c6e793"/>
<text x="358.80" y="24.60" font-size="8.2" text-anchor="start" >AcO<tspan font-size="5" dy="-2.75">-</tspan></text>
<rect x="384.00" y="17.00" width="18.00" height="8.80" fill="#7fcca3"/>
<text x="404.80" y="24.60" font-size="8.2" text-anchor="start" >EtOH</text>
<rect x="424.00" y="17.00" width="18.00" height="8.80" fill="#3f98b6"/>
<text x="444.80" y="24.60" font-size="8.2" text-anchor="start" >C<tspan font-size="5.5" dy="1.92">2</tspan><tspan dy="-1.92">H</tspan><tspan font-size="5.5" dy="1.92">4</tspan></text>
<rect x="529.10" y="133.48" width="19.80" height="36.12" fill="#3f98b6"/>
<rect x="529.10" y="115.31" width="19.80" height="18.47" fill="#7fcca3"/>
<rect x="529.10" y="113.04" width="19.80" height="2.57" fill="#c6e793"/>
<rect x="529.10" y="110.63" width="19.80" height="2.70" fill="#e8fbc4"/>
<rect x="529.10" y="88.86" width="19.80" height="22.08" fill="#fee999"/>
<rect x="529.10" y="87.39" width="19.80" height="1.77" fill="#fdbb63"/>
<rect x="529.10" y="70.96" width="19.80" height="16.73" fill="#fca58a"/>
<rect x="529.10" y="43.83" width="19.80" height="27.42" fill="#c5c5c5"/>
<line x1="539.00" y1="131.59" x2="539.00" y2="135.38" stroke="#5a5a5a" stroke-width="0.5" />
<line x1="537.60" y1="131.59" x2="540.40" y2="131.59" stroke="#5a5a5a" stroke-width="0.5" />
<line x1="537.60" y1="135.38" x2="540.40" y2="135.38" stroke="#5a5a5a" stroke-width="0.5" />
<line x1="539.00" y1="114.24" x2="539.00" y2="116.38" stroke="#5a5a5a" stroke-width="0.5" />
<line x1="537.60" y1="114.24" x2="540.40" y2="114.24" stroke="#5a5a5a" stroke-width="0.5" />
<line x1="537.60" y1="116.38" x2="540.40" y2="116.38" stroke="#5a5a5a" stroke-width="0.5" />
<line x1="539.00" y1="112.30" x2="539.00" y2="113.78" stroke="#5a5a5a" stroke-width="0.5" />
<line x1="537.60" y1="112.30" x2="540.40" y2="112.30" stroke="#5a5a5a" stroke-width="0.5" />
<line x1="537.60" y1="113.78" x2="540.40" y2="113.78" stroke="#5a5a5a" stroke-width="0.5" />
<line x1="539.00" y1="110.23" x2="539.00" y2="111.04" stroke="#5a5a5a" stroke-width="0.5" />
<line x1="537.60" y1="110.23" x2="540.40" y2="110.23" stroke="#5a5a5a" stroke-width="0.5" />
<line x1="537.60" y1="111.04" x2="540.40" y2="111.04" stroke="#5a5a5a" stroke-width="0.5" />
<line x1="539.00" y1="87.13" x2="539.00" y2="90.58" stroke="#5a5a5a" stroke-width="0.5" />
<line x1="537.60" y1="87.13" x2="540.40" y2="87.13" stroke="#5a5a5a" stroke-width="0.5" />
<line x1="537.60" y1="90.58" x2="540.40" y2="90.58" stroke="#5a5a5a" stroke-width="0.5" />
<line x1="539.00" y1="86.71" x2="539.00" y2="88.07" stroke="#5a5a5a" stroke-width="0.5" />
<line x1="537.60" y1="86.71" x2="540.40" y2="86.71" stroke="#5a5a5a" stroke-width="0.5" />
<line x1="537.60" y1="88.07" x2="540.40" y2="88.07" stroke="#5a5a5a" stroke-width="0.5" />
<line x1="539.00" y1="69.63" x2="539.00" y2="72.28" stroke="#5a5a5a" stroke-width="0.5" />
<line x1="537.60" y1="69.63" x2="540.40" y2="69.63" stroke="#5a5a5a" stroke-width="0.5" />
<line x1="537.60" y1="72.28" x2="540.40" y2="72.28" stroke="#5a5a5a" stroke-width="0.5" />
<line x1="539.00" y1="41.75" x2="539.00" y2="45.92" stroke="#5a5a5a" stroke-width="0.5" />
<line x1="537.60" y1="41.75" x2="540.40" y2="41.75" stroke="#5a5a5a" stroke-width="0.5" />
<line x1="537.60" y1="45.92" x2="540.40" y2="45.92" stroke="#5a5a5a" stroke-width="0.5" />
<rect x="557.70" y="126.40" width="19.80" height="43.20" fill="#3f98b6"/>
<rect x="557.70" y="106.36" width="19.80" height="20.34" fill="#7fcca3"/>
<rect x="557.70" y="102.62" width="19.80" height="4.04" fill="#c6e793"/>
<rect x="557.70" y="99.41" width="19.80" height="3.51" fill="#e8fbc4"/>
<rect x="557.70" y="81.38" width="19.80" height="18.34" fill="#fee999"/>
<rect x="557.70" y="79.37" width="19.80" height="2.30" fill="#fdbb63"/>
<rect x="557.70" y="66.28" width="19.80" height="13.39" fill="#fca58a"/>
<rect x="557.70" y="39.83" width="19.80" height="26.75" fill="#c5c5c5"/>
<line x1="567.60" y1="125.09" x2="567.60" y2="127.71" stroke="#5a5a5a" stroke-width="0.5" />
<line x1="566.20" y1="125.09" x2="569.00" y2="125.09" stroke="#5a5a5a" stroke-width="0.5" />
<line x1="566.20" y1="127.71" x2="569.00" y2="127.71" stroke="#5a5a5a" stroke-width="0.5" />
<line x1="567.60" y1="105.06" x2="567.60" y2="107.66" stroke="#5a5a5a" stroke-width="0.5" />
<line x1="566.20" y1="105.06" x2="569.00" y2="105.06" stroke="#5a5a5a" stroke-width="0.5" />
<line x1="566.20" y1="107.66" x2="569.00" y2="107.66" stroke="#5a5a5a" stroke-width="0.5" />
<line x1="567.60" y1="101.94" x2="567.60" y2="103.30" stroke="#5a5a5a" stroke-width="0.5" />
<line x1="566.20" y1="101.94" x2="569.00" y2="101.94" stroke="#5a5a5a" stroke-width="0.5" />
<line x1="566.20" y1="103.30" x2="569.00" y2="103.30" stroke="#5a5a5a" stroke-width="0.5" />
<line x1="567.60" y1="98.89" x2="567.60" y2="99.93" stroke="#5a5a5a" stroke-width="0.5" />
<line x1="566.20" y1="98.89" x2="569.00" y2="98.89" stroke="#5a5a5a" stroke-width="0.5" />
<line x1="566.20" y1="99.93" x2="569.00" y2="99.93" stroke="#5a5a5a" stroke-width="0.5" />
<line x1="567.60" y1="79.24" x2="567.60" y2="83.51" stroke="#5a5a5a" stroke-width="0.5" />
<line x1="566.20" y1="79.24" x2="569.00" y2="79.24" stroke="#5a5a5a" stroke-width="0.5" />
<line x1="566.20" y1="83.51" x2="569.00" y2="83.51" stroke="#5a5a5a" stroke-width="0.5" />
<line x1="567.60" y1="78.83" x2="567.60" y2="79.92" stroke="#5a5a5a" stroke-width="0.5" />
<line x1="566.20" y1="78.83" x2="569.00" y2="78.83" stroke="#5a5a5a" stroke-width="0.5" />
<line x1="566.20" y1="79.92" x2="569.00" y2="79.92" stroke="#5a5a5a" stroke-width="0.5" />
<line x1="567.60" y1="64.52" x2="567.60" y2="68.04" stroke="#5a5a5a" stroke-width="0.5" />
<line x1="566.20" y1="64.52" x2="569.00" y2="64.52" stroke="#5a5a5a" stroke-width="0.5" />
<line x1="566.20" y1="68.04" x2="569.00" y2="68.04" stroke="#5a5a5a" stroke-width="0.5" />
<line x1="567.60" y1="37.63" x2="567.60" y2="42.03" stroke="#5a5a5a" stroke-width="0.5" />
<line x1="566.20" y1="37.63" x2="569.00" y2="37.63" stroke="#5a5a5a" stroke-width="0.5" />
<line x1="566.20" y1="42.03" x2="569.00" y2="42.03" stroke="#5a5a5a" stroke-width="0.5" />
<rect x="586.10" y="124.26" width="19.80" height="45.34" fill="#3f98b6"/>
<rect x="586.10" y="103.69" width="19.80" height="20.87" fill="#7fcca3"/>
<rect x="586.10" y="100.08" width="19.80" height="3.91" fill="#c6e793"/>
<rect x="586.10" y="97.01" width="19.80" height="3.37" fill="#e8fbc4"/>
<rect x="586.10" y="78.97" width="19.80" height="18.34" fill="#fee999"/>
<rect x="586.10" y="76.97" width="19.80" height="2.30" fill="#fdbb63"/>
<rect x="586.10" y="63.47" width="19.80" height="13.79" fill="#fca58a"/>
<rect x="586.10" y="38.76" width="19.80" height="25.02" fill="#c5c5c5"/>
<line x1="596.00" y1="122.49" x2="596.00" y2="126.03" stroke="#5a5a5a" stroke-width="0.5" />
<line x1="594.60" y1="122.49" x2="597.40" y2="122.49" stroke="#5a5a5a" stroke-width="0.5" />
<line x1="594.60" y1="126.03" x2="597.40" y2="126.03" stroke="#5a5a5a" stroke-width="0.5" />
<line x1="596.00" y1="102.51" x2="596.00" y2="104.86" stroke="#5a5a5a" stroke-width="0.5" />
<line x1="594.60" y1="102.51" x2="597.40" y2="102.51" stroke="#5a5a5a" stroke-width="0.5" />
<line x1="594.60" y1="104.86" x2="597.40" y2="104.86" stroke="#5a5a5a" stroke-width="0.5" />
<line x1="596.00" y1="99.38" x2="596.00" y2="100.78" stroke="#5a5a5a" stroke-width="0.5" />
<line x1="594.60" y1="99.38" x2="597.40" y2="99.38" stroke="#5a5a5a" stroke-width="0.5" />
<line x1="594.60" y1="100.78" x2="597.40" y2="100.78" stroke="#5a5a5a" stroke-width="0.5" />
<line x1="596.00" y1="96.40" x2="596.00" y2="97.62" stroke="#5a5a5a" stroke-width="0.5" />
<line x1="594.60" y1="96.40" x2="597.40" y2="96.40" stroke="#5a5a5a" stroke-width="0.5" />
<line x1="594.60" y1="97.62" x2="597.40" y2="97.62" stroke="#5a5a5a" stroke-width="0.5" />
<line x1="596.00" y1="77.19" x2="596.00" y2="80.75" stroke="#5a5a5a" stroke-width="0.5" />
<line x1="594.60" y1="77.19" x2="597.40" y2="77.19" stroke="#5a5a5a" stroke-width="0.5" />
<line x1="594.60" y1="80.75" x2="597.40" y2="80.75" stroke="#5a5a5a" stroke-width="0.5" />
<line x1="596.00" y1="76.32" x2="596.00" y2="77.62" stroke="#5a5a5a" stroke-width="0.5" />
<line x1="594.60" y1="76.32" x2="597.40" y2="76.32" stroke="#5a5a5a" stroke-width="0.5" />
<line x1="594.60" y1="77.62" x2="597.40" y2="77.62" stroke="#5a5a5a" stroke-width="0.5" />
<line x1="596.00" y1="62.23" x2="596.00" y2="64.72" stroke="#5a5a5a" stroke-width="0.5" />
<line x1="594.60" y1="62.23" x2="597.40" y2="62.23" stroke="#5a5a5a" stroke-width="0.5" />
<line x1="594.60" y1="64.72" x2="597.40" y2="64.72" stroke="#5a5a5a" stroke-width="0.5" />
<line x1="596.00" y1="36.45" x2="596.00" y2="41.07" stroke="#5a5a5a" stroke-width="0.5" />
<line x1="594.60" y1="36.45" x2="597.40" y2="36.45" stroke="#5a5a5a" stroke-width="0.5" />
<line x1="594.60" y1="41.07" x2="597.40" y2="41.07" stroke="#5a5a5a" stroke-width="0.5" />
<rect x="614.50" y="114.11" width="19.80" height="55.49" fill="#3f98b6"/>
<rect x="614.50" y="89.79" width="19.80" height="24.62" fill="#7fcca3"/>
<rect x="614.50" y="85.92" width="19.80" height="4.17" fill="#c6e793"/>
<rect x="614.50" y="80.98" width="19.80" height="5.24" fill="#e8fbc4"/>
<rect x="614.50" y="63.87" width="19.80" height="17.40" fill="#fee999"/>
<rect x="614.50" y="62.54" width="19.80" height="1.64" fill="#fdbb63"/>
<rect x="614.50" y="53.05" width="19.80" height="9.79" fill="#fca58a"/>
<rect x="614.50" y="32.35" width="19.80" height="21.01" fill="#c5c5c5"/>
<line x1="624.40" y1="112.28" x2="624.40" y2="115.93" stroke="#5a5a5a" stroke-width="0.5" />
<line x1="623.00" y1="112.28" x2="625.80" y2="112.28" stroke="#5a5a5a" stroke-width="0.5" />
<line x1="623.00" y1="115.93" x2="625.80" y2="115.93" stroke="#5a5a5a" stroke-width="0.5" />
<line x1="624.40" y1="88.30" x2="624.40" y2="91.29" stroke="#5a5a5a" stroke-width="0.5" />
<line x1="623.00" y1="88.30" x2="625.80" y2="88.30" stroke="#5a5a5a" stroke-width="0.5" />
<line x1="623.00" y1="91.29" x2="625.80" y2="91.29" stroke="#5a5a5a" stroke-width="0.5" />
<line x1="624.40" y1="85.22" x2="624.40" y2="86.62" stroke="#5a5a5a" stroke-width="0.5" />
<line x1="623.00" y1="85.22" x2="625.80" y2="85.22" stroke="#5a5a5a" stroke-width="0.5" />
<line x1="623.00" y1="86.62" x2="625.80" y2="86.62" stroke="#5a5a5a" stroke-width="0.5" />
<line x1="624.40" y1="80.53" x2="624.40" y2="81.42" stroke="#5a5a5a" stroke-width="0.5" />
<line x1="623.00" y1="80.53" x2="625.80" y2="80.53" stroke="#5a5a5a" stroke-width="0.5" />
<line x1="623.00" y1="81.42" x2="625.80" y2="81.42" stroke="#5a5a5a" stroke-width="0.5" />
<line x1="624.40" y1="62.18" x2="624.40" y2="65.57" stroke="#5a5a5a" stroke-width="0.5" />
<line x1="623.00" y1="62.18" x2="625.80" y2="62.18" stroke="#5a5a5a" stroke-width="0.5" />
<line x1="623.00" y1="65.57" x2="625.80" y2="65.57" stroke="#5a5a5a" stroke-width="0.5" />
<line x1="624.40" y1="61.89" x2="624.40" y2="63.19" stroke="#5a5a5a" stroke-width="0.5" />
<line x1="623.00" y1="61.89" x2="625.80" y2="61.89" stroke="#5a5a5a" stroke-width="0.5" />
<line x1="623.00" y1="63.19" x2="625.80" y2="63.19" stroke="#5a5a5a" stroke-width="0.5" />
<line x1="624.40" y1="51.84" x2="624.40" y2="54.27" stroke="#5a5a5a" stroke-width="0.5" />
<line x1="623.00" y1="51.84" x2="625.80" y2="51.84" stroke="#5a5a5a" stroke-width="0.5" />
<line x1="623.00" y1="54.27" x2="625.80" y2="54.27" stroke="#5a5a5a" stroke-width="0.5" />
<line x1="624.40" y1="30.29" x2="624.40" y2="34.40" stroke="#5a5a5a" stroke-width="0.5" />
<line x1="623.00" y1="30.29" x2="625.80" y2="30.29" stroke="#5a5a5a" stroke-width="0.5" />
<line x1="623.00" y1="34.40" x2="625.80" y2="34.40" stroke="#5a5a5a" stroke-width="0.5" />
<rect x="642.70" y="121.86" width="19.80" height="47.74" fill="#3f98b6"/>
<rect x="642.70" y="105.83" width="19.80" height="16.33" fill="#7fcca3"/>
<rect x="642.70" y="103.02" width="19.80" height="3.11" fill="#c6e793"/>
<rect x="642.70" y="98.48" width="19.80" height="4.84" fill="#e8fbc4"/>
<rect x="642.70" y="80.57" width="19.80" height="18.20" fill="#fee999"/>
<rect x="642.70" y="78.57" width="19.80" height="2.30" fill="#fdbb63"/>
<rect x="642.70" y="66.95" width="19.80" height="11.92" fill="#fca58a"/>
<rect x="642.70" y="36.75" width="19.80" height="30.49" fill="#c5c5c5"/>
<line x1="652.60" y1="120.44" x2="652.60" y2="123.28" stroke="#5a5a5a" stroke-width="0.5" />
<line x1="651.20" y1="120.44" x2="654.00" y2="120.44" stroke="#5a5a5a" stroke-width="0.5" />
<line x1="651.20" y1="123.28" x2="654.00" y2="123.28" stroke="#5a5a5a" stroke-width="0.5" />
<line x1="652.60" y1="104.85" x2="652.60" y2="106.80" stroke="#5a5a5a" stroke-width="0.5" />
<line x1="651.20" y1="104.85" x2="654.00" y2="104.85" stroke="#5a5a5a" stroke-width="0.5" />
<line x1="651.20" y1="106.80" x2="654.00" y2="106.80" stroke="#5a5a5a" stroke-width="0.5" />
<line x1="652.60" y1="102.55" x2="652.60" y2="103.49" stroke="#5a5a5a" stroke-width="0.5" />
<line x1="651.20" y1="102.55" x2="654.00" y2="102.55" stroke="#5a5a5a" stroke-width="0.5" />
<line x1="651.20" y1="103.49" x2="654.00" y2="103.49" stroke="#5a5a5a" stroke-width="0.5" />
<line x1="652.60" y1="97.91" x2="652.60" y2="99.04" stroke="#5a5a5a" stroke-width="0.5" />
<line x1="651.20" y1="97.91" x2="654.00" y2="97.91" stroke="#5a5a5a" stroke-width="0.5" />
<line x1="651.20" y1="99.04" x2="654.00" y2="99.04" stroke="#5a5a5a" stroke-width="0.5" />
<line x1="652.60" y1="79.11" x2="652.60" y2="82.04" stroke="#5a5a5a" stroke-width="0.5" />
<line x1="651.20" y1="79.11" x2="654.00" y2="79.11" stroke="#5a5a5a" stroke-width="0.5" />
<line x1="651.20" y1="82.04" x2="654.00" y2="82.04" stroke="#5a5a5a" stroke-width="0.5" />
<line x1="652.60" y1="78.05" x2="652.60" y2="79.10" stroke="#5a5a5a" stroke-width="0.5" />
<line x1="651.20" y1="78.05" x2="654.00" y2="78.05" stroke="#5a5a5a" stroke-width="0.5" />
<line x1="651.20" y1="79.10" x2="654.00" y2="79.10" stroke="#5a5a5a" stroke-width="0.5" />
<line x1="652.60" y1="65.43" x2="652.60" y2="68.46" stroke="#5a5a5a" stroke-width="0.5" />
<line x1="651.20" y1="65.43" x2="654.00" y2="65.43" stroke="#5a5a5a" stroke-width="0.5" />
<line x1="651.20" y1="68.46" x2="654.00" y2="68.46" stroke="#5a5a5a" stroke-width="0.5" />
<line x1="652.60" y1="34.26" x2="652.60" y2="39.24" stroke="#5a5a5a" stroke-width="0.5" />
<line x1="651.20" y1="34.26" x2="654.00" y2="34.26" stroke="#5a5a5a" stroke-width="0.5" />
<line x1="651.20" y1="39.24" x2="654.00" y2="39.24" stroke="#5a5a5a" stroke-width="0.5" />
<rect x="671.10" y="125.46" width="19.80" height="44.14" fill="#3f98b6"/>
<rect x="671.10" y="107.16" width="19.80" height="18.60" fill="#7fcca3"/>
<rect x="671.10" y="104.49" width="19.80" height="2.97" fill="#c6e793"/>
<rect x="671.10" y="100.08" width="19.80" height="4.71" fill="#e8fbc4"/>
<rect x="671.10" y="81.91" width="19.80" height="18.47" fill="#fee999"/>
<rect x="671.10" y="80.31" width="19.80" height="1.90" fill="#fdbb63"/>
<rect x="671.10" y="67.48" width="19.80" height="13.13" fill="#fca58a"/>
<rect x="671.10" y="32.08" width="19.80" height="35.70" fill="#c5c5c5"/>
<line x1="681.00" y1="124.12" x2="681.00" y2="126.81" stroke="#5a5a5a" stroke-width="0.5" />
<line x1="679.60" y1="124.12" x2="682.40" y2="124.12" stroke="#5a5a5a" stroke-width="0.5" />
<line x1="679.60" y1="126.81" x2="682.40" y2="126.81" stroke="#5a5a5a" stroke-width="0.5" />
<line x1="681.00" y1="105.99" x2="681.00" y2="108.33" stroke="#5a5a5a" stroke-width="0.5" />
<line x1="679.60" y1="105.99" x2="682.40" y2="105.99" stroke="#5a5a5a" stroke-width="0.5" />
<line x1="679.60" y1="108.33" x2="682.40" y2="108.33" stroke="#5a5a5a" stroke-width="0.5" />
<line x1="681.00" y1="103.87" x2="681.00" y2="105.10" stroke="#5a5a5a" stroke-width="0.5" />
<line x1="679.60" y1="103.87" x2="682.40" y2="103.87" stroke="#5a5a5a" stroke-width="0.5" />
<line x1="679.60" y1="105.10" x2="682.40" y2="105.10" stroke="#5a5a5a" stroke-width="0.5" />
<line x1="681.00" y1="99.48" x2="681.00" y2="100.68" stroke="#5a5a5a" stroke-width="0.5" />
<line x1="679.60" y1="99.48" x2="682.40" y2="99.48" stroke="#5a5a5a" stroke-width="0.5" />
<line x1="679.60" y1="100.68" x2="682.40" y2="100.68" stroke="#5a5a5a" stroke-width="0.5" />
<line x1="681.00" y1="79.82" x2="681.00" y2="84.00" stroke="#5a5a5a" stroke-width="0.5" />
<line x1="679.60" y1="79.82" x2="682.40" y2="79.82" stroke="#5a5a5a" stroke-width="0.5" />
<line x1="679.60" y1="84.00" x2="682.40" y2="84.00" stroke="#5a5a5a" stroke-width="0.5" />
<line x1="681.00" y1="79.60" x2="681.00" y2="81.02" stroke="#5a5a5a" stroke-width="0.5" />
<line x1="679.60" y1="79.60" x2="682.40" y2="79.60" stroke="#5a5a5a" stroke-width="0.5" />
<line x1="679.60" y1="81.02" x2="682.40" y2="81.02" stroke="#5a5a5a" stroke-width="0.5" />
<line x1="681.00" y1="66.06" x2="681.00" y2="68.90" stroke="#5a5a5a" stroke-width="0.5" />
<line x1="679.60" y1="66.06" x2="682.40" y2="66.06" stroke="#5a5a5a" stroke-width="0.5" />
<line x1="679.60" y1="68.90" x2="682.40" y2="68.90" stroke="#5a5a5a" stroke-width="0.5" />
<line x1="681.00" y1="30.07" x2="681.00" y2="34.09" stroke="#5a5a5a" stroke-width="0.5" />
<line x1="679.60" y1="30.07" x2="682.40" y2="30.07" stroke="#5a5a5a" stroke-width="0.5" />
<line x1="679.60" y1="34.09" x2="682.40" y2="34.09" stroke="#5a5a5a" stroke-width="0.5" />
<rect x="525.50" y="28.00" width="170.10" height="141.30" fill="none" stroke="#222" stroke-width="1.2"/>
<line x1="525.50" y1="169.30" x2="522.30" y2="169.30" stroke="#222" stroke-width="1.0" />
<line x1="525.50" y1="142.50" x2="522.30" y2="142.50" stroke="#222" stroke-width="1.0" />
<line x1="525.50" y1="115.70" x2="522.30" y2="115.70" stroke="#222" stroke-width="1.0" />
<line x1="525.50" y1="88.90" x2="522.30" y2="88.90" stroke="#222" stroke-width="1.0" />
<line x1="525.50" y1="62.10" x2="522.30" y2="62.10" stroke="#222" stroke-width="1.0" />
<line x1="525.50" y1="35.30" x2="522.30" y2="35.30" stroke="#222" stroke-width="1.0" />
<line x1="525.50" y1="155.90" x2="523.70" y2="155.90" stroke="#222" stroke-width="1.0" />
<line x1="525.50" y1="129.10" x2="523.70" y2="129.10" stroke="#222" stroke-width="1.0" />
<line x1="525.50" y1="102.30" x2="523.70" y2="102.30" stroke="#222" stroke-width="1.0" />
<line x1="525.50" y1="75.50" x2="523.70" y2="75.50" stroke="#222" stroke-width="1.0" />
<line x1="525.50" y1="48.70" x2="523.70" y2="48.70" stroke="#222" stroke-width="1.0" />
<line x1="539.00" y1="169.30" x2="539.00" y2="172.50" stroke="#222" stroke-width="1.0" />
<line x1="567.60" y1="169.30" x2="567.60" y2="172.50" stroke="#222" stroke-width="1.0" />
<line x1="596.00" y1="169.30" x2="596.00" y2="172.50" stroke="#222" stroke-width="1.0" />
<line x1="624.40" y1="169.30" x2="624.40" y2="172.50" stroke="#222" stroke-width="1.0" />
<line x1="652.60" y1="169.30" x2="652.60" y2="172.50" stroke="#222" stroke-width="1.0" />
<line x1="681.00" y1="169.30" x2="681.00" y2="172.50" stroke="#222" stroke-width="1.0" />
<text transform="translate(521.10 173.30) scale(1 1.12)" font-size="10.5" text-anchor="end" >0</text>
<text transform="translate(521.10 146.50) scale(1 1.12)" font-size="10.5" text-anchor="end" >20</text>
<text transform="translate(521.10 119.70) scale(1 1.12)" font-size="10.5" text-anchor="end" >40</text>
<text transform="translate(521.10 92.90) scale(1 1.12)" font-size="10.5" text-anchor="end" >60</text>
<text transform="translate(521.10 66.10) scale(1 1.12)" font-size="10.5" text-anchor="end" >80</text>
<text transform="translate(521.10 39.30) scale(1 1.12)" font-size="10.5" text-anchor="end" >100</text>
<text transform="translate(539.00 181.60) scale(1 1.04)" font-size="10.3" text-anchor="middle" >-0.9</text>
<text transform="translate(567.60 181.60) scale(1 1.04)" font-size="10.3" text-anchor="middle" >-1.0</text>
<text transform="translate(596.00 181.60) scale(1 1.04)" font-size="10.3" text-anchor="middle" >-1.1</text>
<text transform="translate(624.40 181.60) scale(1 1.04)" font-size="10.3" text-anchor="middle" >-1.2</text>
<text transform="translate(652.60 181.60) scale(1 1.04)" font-size="10.3" text-anchor="middle" >-1.3</text>
<text transform="translate(681.00 181.60) scale(1 1.04)" font-size="10.3" text-anchor="middle" >-1.4</text>
<text x="610.05" y="198.20" font-size="11.8" text-anchor="middle" >Potential (V <tspan font-style="italic">vs</tspan>. RHE)</text>
<text x="501.00" y="99.15" font-size="12.1" text-anchor="middle" transform="rotate(-90 501.00 99.15)" >Faraday efficiency (%)</text>
<text x="480.00" y="34.00" font-size="19.5" text-anchor="start" >c</text>
<path d="M70.40,340.20 C80.07,334.21 89.73,327.55 99.40,323.20 C109.10,318.83 118.80,317.73 128.50,309.00 C138.17,300.30 147.83,274.73 157.50,267.00 C167.17,259.27 176.83,260.98 186.50,260.40 C196.13,259.82 205.77,250.14 215.40,243.40" fill="none" stroke="#fbab4f" stroke-width="1.05"/>
<path d="M70.40,351.00 C75.23,349.73 89.72,345.80 99.40,343.40 C109.08,341.00 118.82,339.75 128.50,336.60 C138.18,333.45 147.83,327.43 157.50,324.50 C167.17,321.57 176.85,321.65 186.50,319.00 C196.15,316.35 210.58,310.33 215.40,308.60" fill="none" stroke="#6cc59c" stroke-width="1.05"/>
<circle cx="70.40" cy="340.20" r="2.9" fill="url(#go)"/>
<circle cx="99.40" cy="323.20" r="2.9" fill="url(#go)"/>
<circle cx="128.50" cy="309.00" r="2.9" fill="url(#go)"/>
<circle cx="157.50" cy="267.00" r="2.9" fill="url(#go)"/>
<circle cx="186.50" cy="260.40" r="2.9" fill="url(#go)"/>
<circle cx="215.40" cy="243.40" r="2.9" fill="url(#go)"/>
<circle cx="70.40" cy="351.00" r="2.9" fill="url(#gg)"/>
<circle cx="99.40" cy="343.40" r="2.9" fill="url(#gg)"/>
<circle cx="128.50" cy="336.60" r="2.9" fill="url(#gg)"/>
<circle cx="157.50" cy="324.50" r="2.9" fill="url(#gg)"/>
<circle cx="186.50" cy="319.00" r="2.9" fill="url(#gg)"/>
<circle cx="215.40" cy="308.60" r="2.9" fill="url(#gg)"/>
<rect x="56.00" y="219.90" width="174.40" height="139.50" fill="none" stroke="#222" stroke-width="1.7"/>
<line x1="56.00" y1="359.40" x2="52.80" y2="359.40" stroke="#222" stroke-width="1.0" />
<line x1="56.00" y1="331.52" x2="52.80" y2="331.52" stroke="#222" stroke-width="1.0" />
<line x1="56.00" y1="303.64" x2="52.80" y2="303.64" stroke="#222" stroke-width="1.0" />
<line x1="56.00" y1="275.76" x2="52.80" y2="275.76" stroke="#222" stroke-width="1.0" />
<line x1="56.00" y1="247.88" x2="52.80" y2="247.88" stroke="#222" stroke-width="1.0" />
<line x1="56.00" y1="220.00" x2="52.80" y2="220.00" stroke="#222" stroke-width="1.0" />
<line x1="56.00" y1="345.46" x2="54.20" y2="345.46" stroke="#222" stroke-width="1.0" />
<line x1="56.00" y1="317.58" x2="54.20" y2="317.58" stroke="#222" stroke-width="1.0" />
<line x1="56.00" y1="289.70" x2="54.20" y2="289.70" stroke="#222" stroke-width="1.0" />
<line x1="56.00" y1="261.82" x2="54.20" y2="261.82" stroke="#222" stroke-width="1.0" />
<line x1="56.00" y1="233.94" x2="54.20" y2="233.94" stroke="#222" stroke-width="1.0" />
<line x1="70.40" y1="359.40" x2="70.40" y2="362.60" stroke="#222" stroke-width="1.0" />
<line x1="99.40" y1="359.40" x2="99.40" y2="362.60" stroke="#222" stroke-width="1.0" />
<line x1="128.50" y1="359.40" x2="128.50" y2="362.60" stroke="#222" stroke-width="1.0" />
<line x1="157.50" y1="359.40" x2="157.50" y2="362.60" stroke="#222" stroke-width="1.0" />
<line x1="186.50" y1="359.40" x2="186.50" y2="362.60" stroke="#222" stroke-width="1.0" />
<line x1="215.40" y1="359.40" x2="215.40" y2="362.60" stroke="#222" stroke-width="1.0" />
<text transform="translate(51.40 363.70) scale(1 1.12)" font-size="11.4" text-anchor="end" >0</text>
<text transform="translate(51.40 335.82) scale(1 1.12)" font-size="11.4" text-anchor="end" >20</text>
<text transform="translate(51.40 307.94) scale(1 1.12)" font-size="11.4" text-anchor="end" >40</text>
<text transform="translate(51.40 280.06) scale(1 1.12)" font-size="11.4" text-anchor="end" >60</text>
<text transform="translate(51.40 252.18) scale(1 1.12)" font-size="11.4" text-anchor="end" >80</text>
<text transform="translate(51.40 224.30) scale(1 1.12)" font-size="11.4" text-anchor="end" >100</text>
<text transform="translate(70.40 374.60) scale(1 1.1)" font-size="11.4" text-anchor="middle" >-0.9</text>
<text transform="translate(99.40 374.60) scale(1 1.1)" font-size="11.4" text-anchor="middle" >-1.0</text>
<text transform="translate(128.50 374.60) scale(1 1.1)" font-size="11.4" text-anchor="middle" >-1.1</text>
<text transform="translate(157.50 374.60) scale(1 1.1)" font-size="11.4" text-anchor="middle" >-1.2</text>
<text transform="translate(186.50 374.60) scale(1 1.1)" font-size="11.4" text-anchor="middle" >-1.3</text>
<text transform="translate(215.40 374.60) scale(1 1.1)" font-size="11.4" text-anchor="middle" >-1.4</text>
<text x="143.00" y="390.20" font-size="13.1" text-anchor="middle" >Potential (V <tspan font-style="italic">vs</tspan>. RHE)</text>
<text x="28.80" y="290.40" font-size="13.7" text-anchor="middle" transform="rotate(-90 28.80 290.40)" ><tspan font-style="italic">j</tspan><tspan font-size="8.4" dy="2.94">C2</tspan><tspan dy="-2.94"> (mA/cm</tspan><tspan font-size="8.4" dy="-4.62">2</tspan><tspan dy="4.62">)</tspan></text>
<line x1="61.00" y1="229.60" x2="84.60" y2="229.60" stroke="#6cc59c" stroke-width="1.1" />
<circle cx="72.60" cy="229.60" r="2.6" fill="url(#gg)"/>
<line x1="61.00" y1="244.60" x2="84.60" y2="244.60" stroke="#fbab4f" stroke-width="1.1" />
<circle cx="72.60" cy="244.60" r="2.6" fill="url(#go)"/>
<text x="87.00" y="233.20" font-size="10.6" text-anchor="start" >Cu<tspan font-size="6.5" dy="2.27">2</tspan><tspan dy="-2.27">O</tspan></text>
<text x="87.00" y="248.20" font-size="10.6" text-anchor="start" >CO-Cu<tspan font-size="6.5" dy="2.27">2</tspan><tspan dy="-2.27">O</tspan></text>
<text x="1.80" y="232.00" font-size="19.5" text-anchor="start" >d</text>
<rect x="296.40" y="344.88" width="7.60" height="10.62" fill="#fdb864"/>
<rect x="304.00" y="337.43" width="7.60" height="18.07" fill="#7dcaa0"/>
<rect x="311.60" y="341.88" width="7.60" height="13.62" fill="#c5c5c5"/>
<rect x="324.80" y="334.89" width="7.60" height="20.61" fill="#fdb864"/>
<rect x="332.40" y="335.89" width="7.60" height="19.61" fill="#7dcaa0"/>
<rect x="340.00" y="335.52" width="7.60" height="19.98" fill="#c5c5c5"/>
<rect x="353.20" y="326.26" width="7.60" height="29.24" fill="#fdb864"/>
<rect x="360.80" y="325.08" width="7.60" height="30.42" fill="#7dcaa0"/>
<rect x="368.40" y="328.90" width="7.60" height="26.60" fill="#c5c5c5"/>
<rect x="381.50" y="311.19" width="7.60" height="44.31" fill="#fdb864"/>
<rect x="389.10" y="321.45" width="7.60" height="34.05" fill="#7dcaa0"/>
<rect x="396.70" y="314.37" width="7.60" height="41.13" fill="#c5c5c5"/>
<rect x="409.80" y="303.38" width="7.60" height="52.12" fill="#fdb864"/>
<rect x="417.40" y="301.56" width="7.60" height="53.94" fill="#7dcaa0"/>
<rect x="425.00" y="298.75" width="7.60" height="56.75" fill="#c5c5c5"/>
<rect x="438.10" y="290.31" width="7.60" height="65.19" fill="#fdb864"/>
<rect x="445.70" y="287.94" width="7.60" height="67.56" fill="#7dcaa0"/>
<rect x="453.30" y="277.96" width="7.60" height="77.54" fill="#c5c5c5"/>
<rect x="293.80" y="219.30" width="170.20" height="136.20" fill="none" stroke="#222" stroke-width="1.2"/>
<line x1="293.80" y1="355.50" x2="290.60" y2="355.50" stroke="#222" stroke-width="1.0" />
<line x1="293.80" y1="328.26" x2="290.60" y2="328.26" stroke="#222" stroke-width="1.0" />
<line x1="293.80" y1="301.02" x2="290.60" y2="301.02" stroke="#222" stroke-width="1.0" />
<line x1="293.80" y1="273.78" x2="290.60" y2="273.78" stroke="#222" stroke-width="1.0" />
<line x1="293.80" y1="246.54" x2="290.60" y2="246.54" stroke="#222" stroke-width="1.0" />
<line x1="293.80" y1="219.30" x2="290.60" y2="219.30" stroke="#222" stroke-width="1.0" />
<line x1="293.80" y1="341.88" x2="292.00" y2="341.88" stroke="#222" stroke-width="1.0" />
<line x1="293.80" y1="314.64" x2="292.00" y2="314.64" stroke="#222" stroke-width="1.0" />
<line x1="293.80" y1="287.40" x2="292.00" y2="287.40" stroke="#222" stroke-width="1.0" />
<line x1="293.80" y1="260.16" x2="292.00" y2="260.16" stroke="#222" stroke-width="1.0" />
<line x1="293.80" y1="232.92" x2="292.00" y2="232.92" stroke="#222" stroke-width="1.0" />
<line x1="307.80" y1="355.50" x2="307.80" y2="358.70" stroke="#222" stroke-width="1.0" />
<line x1="336.20" y1="355.50" x2="336.20" y2="358.70" stroke="#222" stroke-width="1.0" />
<line x1="364.60" y1="355.50" x2="364.60" y2="358.70" stroke="#222" stroke-width="1.0" />
<line x1="392.90" y1="355.50" x2="392.90" y2="358.70" stroke="#222" stroke-width="1.0" />
<line x1="421.20" y1="355.50" x2="421.20" y2="358.70" stroke="#222" stroke-width="1.0" />
<line x1="449.50" y1="355.50" x2="449.50" y2="358.70" stroke="#222" stroke-width="1.0" />
<text transform="translate(289.40 359.70) scale(1 1.12)" font-size="11.1" text-anchor="end" >0.0</text>
<text transform="translate(289.40 332.46) scale(1 1.12)" font-size="11.1" text-anchor="end" >0.3</text>
<text transform="translate(289.40 305.22) scale(1 1.12)" font-size="11.1" text-anchor="end" >0.6</text>
<text transform="translate(289.40 277.98) scale(1 1.12)" font-size="11.1" text-anchor="end" >0.9</text>
<text transform="translate(289.40 250.74) scale(1 1.12)" font-size="11.1" text-anchor="end" >1.2</text>
<text transform="translate(289.40 223.50) scale(1 1.12)" font-size="11.1" text-anchor="end" >1.5</text>
<text transform="translate(307.80 369.50) scale(1 1.07)" font-size="11.3" text-anchor="middle" >-0.9</text>
<text transform="translate(336.20 369.50) scale(1 1.07)" font-size="11.3" text-anchor="middle" >-1.0</text>
<text transform="translate(364.60 369.50) scale(1 1.07)" font-size="11.3" text-anchor="middle" >-1.1</text>
<text transform="translate(392.90 369.50) scale(1 1.07)" font-size="11.3" text-anchor="middle" >-1.2</text>
<text transform="translate(421.20 369.50) scale(1 1.07)" font-size="11.3" text-anchor="middle" >-1.3</text>
<text transform="translate(449.50 369.50) scale(1 1.07)" font-size="11.3" text-anchor="middle" >-1.4</text>
<text x="378.90" y="386.00" font-size="13.0" text-anchor="middle" >Potential (V <tspan font-style="italic">vs</tspan>. RHE)</text>
<text x="271.00" y="287.40" font-size="10.85" text-anchor="middle" transform="rotate(-90 271.00 287.40)" ><tspan font-style="italic">j</tspan> (mA/cm<tspan font-size="6.9" dy="-3.80">2</tspan><tspan dy="3.80">, Normalized to ECSA)</tspan></text>
<rect x="297.40" y="222.00" width="23.10" height="11.00" fill="#fdb864"/>
<text x="323.20" y="231.50" font-size="10.6" text-anchor="start" >C<tspan font-size="6.8" dy="2.38">2</tspan></text>
<rect x="297.40" y="236.80" width="23.10" height="11.00" fill="#7dcaa0"/>
<text x="323.20" y="246.30" font-size="10.6" text-anchor="start" >C<tspan font-size="6.8" dy="2.38">1</tspan></text>
<rect x="297.40" y="251.60" width="23.10" height="11.00" fill="#c5c5c5"/>
<text x="323.20" y="261.10" font-size="10.6" text-anchor="start" >H<tspan font-size="6.8" dy="2.38">2</tspan></text>
<text x="243.50" y="231.60" font-size="19.5" text-anchor="start" >e</text>
<rect x="527.95" y="339.04" width="7.70" height="19.06" fill="#fdb864"/>
<rect x="535.65" y="344.66" width="7.70" height="13.44" fill="#7dcaa0"/>
<rect x="543.35" y="349.08" width="7.70" height="9.02" fill="#c5c5c5"/>
<rect x="556.55" y="321.92" width="7.70" height="36.18" fill="#fdb864"/>
<rect x="564.25" y="340.42" width="7.70" height="17.68" fill="#7dcaa0"/>
<rect x="571.95" y="344.01" width="7.70" height="14.09" fill="#c5c5c5"/>
<rect x="585.25" y="307.28" width="7.70" height="50.82" fill="#fdb864"/>
<rect x="592.95" y="333.98" width="7.70" height="24.12" fill="#7dcaa0"/>
<rect x="600.65" y="340.61" width="7.70" height="17.49" fill="#c5c5c5"/>
<rect x="614.15" y="265.39" width="7.70" height="92.71" fill="#fdb864"/>
<rect x="621.85" y="327.72" width="7.70" height="30.38" fill="#7dcaa0"/>
<rect x="629.55" y="335.54" width="7.70" height="22.56" fill="#c5c5c5"/>
<rect x="642.85" y="258.76" width="7.70" height="99.34" fill="#fdb864"/>
<rect x="650.55" y="311.24" width="7.70" height="46.86" fill="#7dcaa0"/>
<rect x="658.25" y="313.82" width="7.70" height="44.28" fill="#c5c5c5"/>
<rect x="671.95" y="241.82" width="7.70" height="116.28" fill="#fdb864"/>
<rect x="679.65" y="300.28" width="7.70" height="57.82" fill="#7dcaa0"/>
<rect x="687.35" y="295.86" width="7.70" height="62.24" fill="#c5c5c5"/>
<rect x="525.20" y="220.00" width="172.20" height="138.10" fill="none" stroke="#222" stroke-width="1.2"/>
<line x1="525.20" y1="358.10" x2="522.00" y2="358.10" stroke="#222" stroke-width="1.0" />
<line x1="525.20" y1="330.48" x2="522.00" y2="330.48" stroke="#222" stroke-width="1.0" />
<line x1="525.20" y1="302.86" x2="522.00" y2="302.86" stroke="#222" stroke-width="1.0" />
<line x1="525.20" y1="275.24" x2="522.00" y2="275.24" stroke="#222" stroke-width="1.0" />
<line x1="525.20" y1="247.62" x2="522.00" y2="247.62" stroke="#222" stroke-width="1.0" />
<line x1="525.20" y1="220.00" x2="522.00" y2="220.00" stroke="#222" stroke-width="1.0" />
<line x1="525.20" y1="344.29" x2="523.40" y2="344.29" stroke="#222" stroke-width="1.0" />
<line x1="525.20" y1="316.67" x2="523.40" y2="316.67" stroke="#222" stroke-width="1.0" />
<line x1="525.20" y1="289.05" x2="523.40" y2="289.05" stroke="#222" stroke-width="1.0" />
<line x1="525.20" y1="261.43" x2="523.40" y2="261.43" stroke="#222" stroke-width="1.0" />
<line x1="525.20" y1="233.81" x2="523.40" y2="233.81" stroke="#222" stroke-width="1.0" />
<line x1="539.50" y1="358.10" x2="539.50" y2="361.30" stroke="#222" stroke-width="1.0" />
<line x1="568.10" y1="358.10" x2="568.10" y2="361.30" stroke="#222" stroke-width="1.0" />
<line x1="596.80" y1="358.10" x2="596.80" y2="361.30" stroke="#222" stroke-width="1.0" />
<line x1="625.70" y1="358.10" x2="625.70" y2="361.30" stroke="#222" stroke-width="1.0" />
<line x1="654.40" y1="358.10" x2="654.40" y2="361.30" stroke="#222" stroke-width="1.0" />
<line x1="683.50" y1="358.10" x2="683.50" y2="361.30" stroke="#222" stroke-width="1.0" />
<text transform="translate(520.80 362.30) scale(1 1.12)" font-size="11.1" text-anchor="end" >0.0</text>
<text transform="translate(520.80 334.68) scale(1 1.12)" font-size="11.1" text-anchor="end" >0.3</text>
<text transform="translate(520.80 307.06) scale(1 1.12)" font-size="11.1" text-anchor="end" >0.6</text>
<text transform="translate(520.80 279.44) scale(1 1.12)" font-size="11.1" text-anchor="end" >0.9</text>
<text transform="translate(520.80 251.82) scale(1 1.12)" font-size="11.1" text-anchor="end" >1.2</text>
<text transform="translate(520.80 224.20) scale(1 1.12)" font-size="11.1" text-anchor="end" >1.5</text>
<text transform="translate(539.50 372.10) scale(1 1.07)" font-size="11.3" text-anchor="middle" >-0.9</text>
<text transform="translate(568.10 372.10) scale(1 1.07)" font-size="11.3" text-anchor="middle" >-1.0</text>
<text transform="translate(596.80 372.10) scale(1 1.07)" font-size="11.3" text-anchor="middle" >-1.1</text>
<text transform="translate(625.70 372.10) scale(1 1.07)" font-size="11.3" text-anchor="middle" >-1.2</text>
<text transform="translate(654.40 372.10) scale(1 1.07)" font-size="11.3" text-anchor="middle" >-1.3</text>
<text transform="translate(683.50 372.10) scale(1 1.07)" font-size="11.3" text-anchor="middle" >-1.4</text>
<text x="611.30" y="388.20" font-size="13.0" text-anchor="middle" >Potential (V <tspan font-style="italic">vs</tspan>. RHE)</text>
<text x="500.60" y="289.05" font-size="10.85" text-anchor="middle" transform="rotate(-90 500.60 289.05)" ><tspan font-style="italic">j</tspan> (mA/cm<tspan font-size="6.9" dy="-3.80">2</tspan><tspan dy="3.80">, Normalized to ECSA)</tspan></text>
<rect x="529.00" y="222.30" width="23.10" height="11.30" fill="#fdb864"/>
<text x="554.80" y="232.10" font-size="10.6" text-anchor="start" >C<tspan font-size="6.8" dy="2.38">2</tspan></text>
<rect x="529.00" y="237.30" width="23.10" height="11.30" fill="#7dcaa0"/>
<text x="554.80" y="247.10" font-size="10.6" text-anchor="start" >C<tspan font-size="6.8" dy="2.38">1</tspan></text>
<rect x="529.00" y="252.30" width="23.10" height="11.30" fill="#c5c5c5"/>
<text x="554.80" y="262.10" font-size="10.6" text-anchor="start" >H<tspan font-size="6.8" dy="2.38">2</tspan></text>
<text x="480.50" y="231.60" font-size="19.5" text-anchor="start" >f</text>
<rect x="57.90" y="532.54" width="11.30" height="24.96" fill="#7dcaa0"/>
<rect x="69.20" y="498.22" width="11.30" height="59.28" fill="#fdb864"/>
<line x1="63.55" y1="531.08" x2="63.55" y2="534.00" stroke="#555" stroke-width="0.5" />
<line x1="61.95" y1="531.08" x2="65.15" y2="531.08" stroke="#555" stroke-width="0.5" />
<line x1="61.95" y1="534.00" x2="65.15" y2="534.00" stroke="#555" stroke-width="0.5" />
<line x1="74.85" y1="496.76" x2="74.85" y2="499.68" stroke="#555" stroke-width="0.5" />
<line x1="73.25" y1="496.76" x2="76.45" y2="496.76" stroke="#555" stroke-width="0.5" />
<line x1="73.25" y1="499.68" x2="76.45" y2="499.68" stroke="#555" stroke-width="0.5" />
<rect x="87.20" y="513.82" width="11.30" height="43.68" fill="#7dcaa0"/>
<rect x="98.50" y="472.97" width="11.30" height="84.53" fill="#fdb864"/>
<line x1="92.85" y1="512.36" x2="92.85" y2="515.28" stroke="#555" stroke-width="0.5" />
<line x1="91.25" y1="512.36" x2="94.45" y2="512.36" stroke="#555" stroke-width="0.5" />
<line x1="91.25" y1="515.28" x2="94.45" y2="515.28" stroke="#555" stroke-width="0.5" />
<line x1="104.15" y1="471.51" x2="104.15" y2="474.42" stroke="#555" stroke-width="0.5" />
<line x1="102.55" y1="471.51" x2="105.75" y2="471.51" stroke="#555" stroke-width="0.5" />
<line x1="102.55" y1="474.42" x2="105.75" y2="474.42" stroke="#555" stroke-width="0.5" />
<rect x="116.20" y="517.56" width="11.30" height="39.94" fill="#7dcaa0"/>
<rect x="127.50" y="470.18" width="11.30" height="87.32" fill="#fdb864"/>
<line x1="121.85" y1="516.11" x2="121.85" y2="519.02" stroke="#555" stroke-width="0.5" />
<line x1="120.25" y1="516.11" x2="123.45" y2="516.11" stroke="#555" stroke-width="0.5" />
<line x1="120.25" y1="519.02" x2="123.45" y2="519.02" stroke="#555" stroke-width="0.5" />
<line x1="133.15" y1="468.73" x2="133.15" y2="471.64" stroke="#555" stroke-width="0.5" />
<line x1="131.55" y1="468.73" x2="134.75" y2="468.73" stroke="#555" stroke-width="0.5" />
<line x1="131.55" y1="471.64" x2="134.75" y2="471.64" stroke="#555" stroke-width="0.5" />
<rect x="145.70" y="503.42" width="11.30" height="54.08" fill="#7dcaa0"/>
<rect x="157.00" y="430.12" width="11.30" height="127.38" fill="#fdb864"/>
<line x1="151.35" y1="501.96" x2="151.35" y2="504.88" stroke="#555" stroke-width="0.5" />
<line x1="149.75" y1="501.96" x2="152.95" y2="501.96" stroke="#555" stroke-width="0.5" />
<line x1="149.75" y1="504.88" x2="152.95" y2="504.88" stroke="#555" stroke-width="0.5" />
<line x1="162.65" y1="428.66" x2="162.65" y2="431.58" stroke="#555" stroke-width="0.5" />
<line x1="161.05" y1="428.66" x2="164.25" y2="428.66" stroke="#555" stroke-width="0.5" />
<line x1="161.05" y1="431.58" x2="164.25" y2="431.58" stroke="#555" stroke-width="0.5" />
<rect x="174.70" y="517.56" width="11.30" height="39.94" fill="#7dcaa0"/>
<rect x="186.00" y="468.60" width="11.30" height="88.90" fill="#fdb864"/>
<line x1="180.35" y1="516.11" x2="180.35" y2="519.02" stroke="#555" stroke-width="0.5" />
<line x1="178.75" y1="516.11" x2="181.95" y2="516.11" stroke="#555" stroke-width="0.5" />
<line x1="178.75" y1="519.02" x2="181.95" y2="519.02" stroke="#555" stroke-width="0.5" />
<line x1="191.65" y1="467.14" x2="191.65" y2="470.06" stroke="#555" stroke-width="0.5" />
<line x1="190.05" y1="467.14" x2="193.25" y2="467.14" stroke="#555" stroke-width="0.5" />
<line x1="190.05" y1="470.06" x2="193.25" y2="470.06" stroke="#555" stroke-width="0.5" />
<rect x="203.90" y="517.56" width="11.30" height="39.94" fill="#7dcaa0"/>
<rect x="215.20" y="473.22" width="11.30" height="84.28" fill="#fdb864"/>
<line x1="209.55" y1="516.11" x2="209.55" y2="519.02" stroke="#555" stroke-width="0.5" />
<line x1="207.95" y1="516.11" x2="211.15" y2="516.11" stroke="#555" stroke-width="0.5" />
<line x1="207.95" y1="519.02" x2="211.15" y2="519.02" stroke="#555" stroke-width="0.5" />
<line x1="220.85" y1="471.76" x2="220.85" y2="474.67" stroke="#555" stroke-width="0.5" />
<line x1="219.25" y1="471.76" x2="222.45" y2="471.76" stroke="#555" stroke-width="0.5" />
<line x1="219.25" y1="474.67" x2="222.45" y2="474.67" stroke="#555" stroke-width="0.5" />
<rect x="54.50" y="411.60" width="176.10" height="145.90" fill="none" stroke="#222" stroke-width="1.2"/>
<line x1="54.50" y1="557.50" x2="51.30" y2="557.50" stroke="#222" stroke-width="1.0" />
<line x1="54.50" y1="515.90" x2="51.30" y2="515.90" stroke="#222" stroke-width="1.0" />
<line x1="54.50" y1="474.30" x2="51.30" y2="474.30" stroke="#222" stroke-width="1.0" />
<line x1="54.50" y1="432.70" x2="51.30" y2="432.70" stroke="#222" stroke-width="1.0" />
<line x1="54.50" y1="536.70" x2="52.70" y2="536.70" stroke="#222" stroke-width="1.0" />
<line x1="54.50" y1="495.10" x2="52.70" y2="495.10" stroke="#222" stroke-width="1.0" />
<line x1="54.50" y1="453.50" x2="52.70" y2="453.50" stroke="#222" stroke-width="1.0" />
<line x1="69.20" y1="557.50" x2="69.20" y2="560.70" stroke="#222" stroke-width="1.0" />
<line x1="98.50" y1="557.50" x2="98.50" y2="560.70" stroke="#222" stroke-width="1.0" />
<line x1="127.50" y1="557.50" x2="127.50" y2="560.70" stroke="#222" stroke-width="1.0" />
<line x1="157.00" y1="557.50" x2="157.00" y2="560.70" stroke="#222" stroke-width="1.0" />
<line x1="186.00" y1="557.50" x2="186.00" y2="560.70" stroke="#222" stroke-width="1.0" />
<line x1="215.20" y1="557.50" x2="215.20" y2="560.70" stroke="#222" stroke-width="1.0" />
<text transform="translate(49.70 561.60) scale(1 1.12)" font-size="10.8" text-anchor="end" >0</text>
<text transform="translate(49.70 520.00) scale(1 1.12)" font-size="10.8" text-anchor="end" >1</text>
<text transform="translate(49.70 478.40) scale(1 1.12)" font-size="10.8" text-anchor="end" >2</text>
<text transform="translate(49.70 436.80) scale(1 1.12)" font-size="10.8" text-anchor="end" >3</text>
<text transform="translate(69.20 571.20) scale(1 1.07)" font-size="10.6" text-anchor="middle" >-0.9</text>
<text transform="translate(98.50 571.20) scale(1 1.07)" font-size="10.6" text-anchor="middle" >-1.0</text>
<text transform="translate(127.50 571.20) scale(1 1.07)" font-size="10.6" text-anchor="middle" >-1.1</text>
<text transform="translate(157.00 571.20) scale(1 1.07)" font-size="10.6" text-anchor="middle" >-1.2</text>
<text transform="translate(186.00 571.20) scale(1 1.07)" font-size="10.6" text-anchor="middle" >-1.3</text>
<text transform="translate(215.20 571.20) scale(1 1.07)" font-size="10.6" text-anchor="middle" >-1.4</text>
<text x="142.30" y="588.20" font-size="12.3" text-anchor="middle" >Potential (V <tspan font-style="italic">vs</tspan>. RHE)</text>
<text x="36.00" y="484.80" font-size="12.2" text-anchor="middle" transform="rotate(-90 36.00 484.80)" >FE<tspan font-size="8.8" dy="3.08">C2</tspan><tspan dy="-3.08">/FE</tspan><tspan font-size="8.8" dy="3.08">C1</tspan><tspan dy="-3.08"> ratio</tspan></text>
<rect x="58.70" y="414.40" width="22.20" height="10.30" fill="#7dcaa0"/>
<text x="82.60" y="423.40" font-size="9.8" text-anchor="start" >Cu<tspan font-size="6" dy="2.10">2</tspan><tspan dy="-2.10">O</tspan></text>
<rect x="58.70" y="428.60" width="22.20" height="10.40" fill="#fdb864"/>
<text x="82.60" y="438.00" font-size="9.8" text-anchor="start" >CO-Cu<tspan font-size="6" dy="2.10">2</tspan><tspan dy="-2.10">O</tspan></text>
<text x="2.00" y="422.80" font-size="19.5" text-anchor="start" >g</text>
<path d="M302.40,548.00 L302.60,530.00 L302.90,516.00 L303.30,510.00 L304.50,506.50 L306.00,503.50 L307.00,502.00 L307.60,495.00 L308.40,489.00 L309.50,487.60 L309.80,485.31 L311.46,486.69 L312.47,484.75 L313.80,486.12 L314.98,484.52 L316.64,486.64 L317.99,485.04 L319.60,486.97 L321.12,487.67 L322.01,489.02 L322.87,487.89 L323.98,488.85 L324.92,487.53 L325.74,486.22 L326.67,487.30 L327.80,485.27 L329.49,488.28 L330.37,485.96 L331.41,484.54 L332.23,483.79 L333.16,485.16 L334.44,486.04 L335.86,483.40 L336.81,485.22 L338.32,483.19 L339.85,482.12 L341.37,482.13 L342.38,484.27 L343.20,482.58 L344.23,484.90 L345.44,484.85 L347.10,482.35 L348.10,483.62 L349.46,484.34 L350.69,481.37 L351.57,484.40 L353.07,481.81 L354.03,483.67 L355.56,483.77 L356.72,484.21 L357.67,482.28 L359.28,482.30 L360.83,481.65 L361.94,483.49 L362.76,484.17 L364.03,483.90 L365.61,483.63 L366.64,482.25 L367.97,483.92 L368.89,483.85 L370.10,481.43 L371.28,481.98 L372.56,483.50 L373.75,482.70 L375.27,484.17 L376.72,482.37 L377.99,484.65 L378.89,482.53 L379.94,484.34 L381.24,481.73 L382.44,484.41 L383.70,482.40 L384.98,485.94 L386.41,486.26 L387.44,482.81 L389.00,484.71 L390.20,483.22 L391.06,485.19 L392.67,482.29 L394.07,485.20 L395.74,482.06 L396.89,485.41 L398.44,482.80 L399.71,484.45 L400.79,483.35 L402.09,484.16 L403.19,482.64 L404.05,482.25 L405.72,484.37 L406.56,482.85 L407.48,485.16 L409.01,482.94 L410.64,484.79 L411.52,482.16 L412.70,485.04 L414.07,483.89 L415.65,481.81 L416.85,484.41 L418.49,482.68 L419.76,483.75 L420.71,482.52 L421.79,484.54 L422.85,482.49 L423.96,483.81 L424.78,481.95 L425.75,484.65 L426.64,483.97 L427.89,483.89 L429.14,481.26 L430.25,481.59 L431.62,483.72 L432.47,482.35 L433.94,483.41 L434.82,484.31 L436.22,482.02 L437.28,483.31 L438.48,481.02 L440.16,483.34 L441.83,482.40 L442.63,484.80 L443.88,482.59 L444.69,484.08 L445.85,483.01 L446.92,484.48 L448.20,482.00 L449.64,482.79 L450.73,483.43 L452.19,484.84 L453.74,485.49 L455.20,484.74 L456.47,482.58 L457.99,482.79 L459.60,485.13 L460.60,483.19 L461.73,485.18 L463.03,482.40 L464.44,483.94 L465.96,482.39 L467.24,483.85 L468.71,482.78 L469.75,483.88 L471.21,484.17 L472.36,481.78 L473.85,484.22 L474.72,482.20 L476.18,483.98 L477.00,482.05 L478.40,483.80 L479.46,481.30 L480.68,483.49 L481.66,483.34 L482.48,480.36 L484.15,482.35 L485.14,483.86 L486.46,482.93 L488.12,485.49 L489.38,485.53 L490.38,485.33 L491.21,483.34 L492.41,484.77 L493.52,482.75 L494.32,485.42 L495.23,485.20 L496.84,483.02 L498.00,482.68 L499.12,484.39 L499.96,482.24 L501.02,482.89 L502.06,484.18 L503.20,484.95 L504.73,482.06 L506.37,484.70 L507.22,482.54 L508.70,484.16 L509.54,483.96 L510.77,482.64 L512.23,482.66 L513.62,484.37 L514.78,482.72 L515.76,482.31 L516.76,481.72 L517.97,483.86 L518.85,482.72 L519.86,484.26 L521.46,482.27 L522.63,483.93 L523.74,482.34 L525.41,483.98 L526.78,483.59 L527.82,482.05 L529.02,481.49 L530.61,483.24 L532.04,483.69 L533.37,481.85 L535.01,481.25 L536.68,483.53 L537.62,482.39 L539.27,484.93 L540.76,482.73 L541.59,484.43 L543.22,482.99 L544.14,484.86 L545.56,483.23 L546.84,484.54 L547.84,483.27 L548.91,485.17 L550.29,484.60 L551.30,482.14 L552.73,484.05 L553.98,482.73 L555.01,485.06 L556.02,482.85 L557.20,484.31 L558.71,482.76 L559.70,483.02 L561.24,484.49 L562.72,482.39 L563.97,484.59 L565.14,482.49 L566.08,484.66 L567.75,483.62 L568.61,485.54 L570.20,482.62 L571.84,483.47 L573.48,481.30 L574.88,482.48 L575.98,481.18 L577.03,483.02 L577.94,482.10 L579.06,482.82 L580.25,481.96 L581.39,482.60 L582.52,482.81 L583.68,481.99 L584.52,483.76 L586.15,482.06 L587.76,484.07 L589.42,482.69 L590.86,484.15 L591.67,482.01 L593.04,483.09 L594.05,485.06 L595.71,482.94 L596.89,485.14 L597.86,484.96 L599.40,482.68 L600.50,484.67 L602.00,483.41 L603.48,484.68 L604.31,483.53 L605.99,482.96 L607.03,485.13 L608.28,483.85 L609.29,486.00 L610.69,483.67 L612.09,486.57 L613.16,484.39 L614.62,485.94 L615.64,483.86 L616.96,486.15 L618.65,484.67 L620.18,486.90 L621.07,484.04 L622.63,484.89 L623.70,485.85 L625.37,483.59 L626.51,484.03 L627.54,486.33 L628.44,483.64 L629.43,485.22 L630.41,483.47 L631.80,484.83 L632.90,483.68 L633.98,485.48 L635.27,483.49 L636.43,485.00 L637.31,482.56 L638.48,484.38 L640.13,482.37 L641.26,484.68 L642.95,482.46 L644.41,483.32 L646.02,481.37 L647.19,481.58 L648.13,483.07 L649.51,481.85 L650.87,479.69 L651.00,480.60" fill="none" stroke="#66c79b" stroke-width="1.15" stroke-linejoin="round"/>
<circle cx="341.00" cy="458.20" r="3.0" fill="url(#go)"/>
<circle cx="374.80" cy="458.80" r="3.0" fill="url(#go)"/>
<circle cx="413.60" cy="455.00" r="3.0" fill="url(#go)"/>
<circle cx="458.00" cy="456.80" r="3.0" fill="url(#go)"/>
<circle cx="487.40" cy="460.60" r="3.0" fill="url(#go)"/>
<circle cx="520.60" cy="459.60" r="3.0" fill="url(#go)"/>
<circle cx="564.40" cy="463.40" r="3.0" fill="url(#go)"/>
<circle cx="609.60" cy="462.40" r="3.0" fill="url(#go)"/>
<path d="M341.6,453.2 L341.6,448.6 L316,448.6" fill="none" stroke="#fbab4f" stroke-width="0.9"/>
<path d="M309.4,448.6 L317,446.6 L317,450.6 Z" fill="#fbab4f"/>
<path d="M601,491 L601,496.2 L631,496.2" fill="none" stroke="#6cc59c" stroke-width="0.9"/>
<path d="M637.4,496.2 L630,494.2 L630,498.2 Z" fill="#6cc59c"/>
<line x1="302.50" y1="413.30" x2="651.00" y2="413.30" stroke="#111" stroke-width="1.35" />
<line x1="302.50" y1="557.90" x2="651.00" y2="557.90" stroke="#111" stroke-width="1.35" />
<line x1="302.50" y1="412.60" x2="302.50" y2="558.60" stroke="#111" stroke-width="1.35" />
<line x1="651.00" y1="412.60" x2="651.00" y2="558.60" stroke="#111" stroke-width="1.35" />
<line x1="302.50" y1="557.90" x2="299.30" y2="557.90" stroke="#222" stroke-width="1.0" />
<line x1="302.50" y1="509.70" x2="299.30" y2="509.70" stroke="#222" stroke-width="1.0" />
<line x1="302.50" y1="461.50" x2="299.30" y2="461.50" stroke="#222" stroke-width="1.0" />
<line x1="302.50" y1="413.30" x2="299.30" y2="413.30" stroke="#222" stroke-width="1.0" />
<line x1="302.50" y1="533.80" x2="300.70" y2="533.80" stroke="#222" stroke-width="1.0" />
<line x1="302.50" y1="485.60" x2="300.70" y2="485.60" stroke="#222" stroke-width="1.0" />
<line x1="302.50" y1="437.40" x2="300.70" y2="437.40" stroke="#222" stroke-width="1.0" />
<line x1="651.00" y1="413.30" x2="654.20" y2="413.30" stroke="#222" stroke-width="1.0" />
<line x1="651.00" y1="449.45" x2="654.20" y2="449.45" stroke="#222" stroke-width="1.0" />
<line x1="651.00" y1="485.60" x2="654.20" y2="485.60" stroke="#222" stroke-width="1.0" />
<line x1="651.00" y1="521.75" x2="654.20" y2="521.75" stroke="#222" stroke-width="1.0" />
<line x1="651.00" y1="557.90" x2="654.20" y2="557.90" stroke="#222" stroke-width="1.0" />
<line x1="651.00" y1="431.38" x2="652.80" y2="431.38" stroke="#222" stroke-width="1.0" />
<line x1="651.00" y1="467.53" x2="652.80" y2="467.53" stroke="#222" stroke-width="1.0" />
<line x1="651.00" y1="503.68" x2="652.80" y2="503.68" stroke="#222" stroke-width="1.0" />
<line x1="651.00" y1="539.83" x2="652.80" y2="539.83" stroke="#222" stroke-width="1.0" />
<line x1="302.40" y1="557.90" x2="302.40" y2="561.10" stroke="#222" stroke-width="1.0" />
<line x1="345.98" y1="557.90" x2="345.98" y2="561.10" stroke="#222" stroke-width="1.0" />
<line x1="389.56" y1="557.90" x2="389.56" y2="561.10" stroke="#222" stroke-width="1.0" />
<line x1="433.14" y1="557.90" x2="433.14" y2="561.10" stroke="#222" stroke-width="1.0" />
<line x1="476.72" y1="557.90" x2="476.72" y2="561.10" stroke="#222" stroke-width="1.0" />
<line x1="520.30" y1="557.90" x2="520.30" y2="561.10" stroke="#222" stroke-width="1.0" />
<line x1="563.88" y1="557.90" x2="563.88" y2="561.10" stroke="#222" stroke-width="1.0" />
<line x1="607.46" y1="557.90" x2="607.46" y2="561.10" stroke="#222" stroke-width="1.0" />
<line x1="651.04" y1="557.90" x2="651.04" y2="561.10" stroke="#222" stroke-width="1.0" />
<line x1="324.19" y1="557.90" x2="324.19" y2="559.70" stroke="#222" stroke-width="1.0" />
<line x1="367.77" y1="557.90" x2="367.77" y2="559.70" stroke="#222" stroke-width="1.0" />
<line x1="411.35" y1="557.90" x2="411.35" y2="559.70" stroke="#222" stroke-width="1.0" />
<line x1="454.93" y1="557.90" x2="454.93" y2="559.70" stroke="#222" stroke-width="1.0" />
<line x1="498.51" y1="557.90" x2="498.51" y2="559.70" stroke="#222" stroke-width="1.0" />
<line x1="542.09" y1="557.90" x2="542.09" y2="559.70" stroke="#222" stroke-width="1.0" />
<line x1="585.67" y1="557.90" x2="585.67" y2="559.70" stroke="#222" stroke-width="1.0" />
<line x1="629.25" y1="557.90" x2="629.25" y2="559.70" stroke="#222" stroke-width="1.0" />
<text transform="translate(297.90 562.05) scale(1 1.04)" font-size="12.2" text-anchor="end" >0</text>
<text transform="translate(297.90 513.85) scale(1 1.04)" font-size="12.2" text-anchor="end" >20</text>
<text transform="translate(297.90 465.65) scale(1 1.04)" font-size="12.2" text-anchor="end" >40</text>
<text transform="translate(297.90 417.45) scale(1 1.04)" font-size="12.2" text-anchor="end" >60</text>
<text transform="translate(655.80 417.45) scale(1 1.04)" font-size="12.2" text-anchor="start" >0</text>
<text transform="translate(655.80 453.60) scale(1 1.04)" font-size="12.2" text-anchor="start" >50</text>
<text transform="translate(655.80 489.75) scale(1 1.04)" font-size="12.2" text-anchor="start" >100</text>
<text transform="translate(655.80 525.90) scale(1 1.04)" font-size="12.2" text-anchor="start" >150</text>
<text transform="translate(655.80 562.05) scale(1 1.04)" font-size="12.2" text-anchor="start" >200</text>
<text x="302.40" y="573.00" font-size="12.2" text-anchor="middle" >0</text>
<text x="345.98" y="573.00" font-size="12.2" text-anchor="middle" >1</text>
<text x="389.56" y="573.00" font-size="12.2" text-anchor="middle" >2</text>
<text x="433.14" y="573.00" font-size="12.2" text-anchor="middle" >3</text>
<text x="476.72" y="573.00" font-size="12.2" text-anchor="middle" >4</text>
<text x="520.30" y="573.00" font-size="12.2" text-anchor="middle" >5</text>
<text x="563.88" y="573.00" font-size="12.2" text-anchor="middle" >6</text>
<text x="607.46" y="573.00" font-size="12.2" text-anchor="middle" >7</text>
<text x="651.04" y="573.00" font-size="12.2" text-anchor="middle" >8</text>
<text x="476.50" y="587.00" font-size="13.4" text-anchor="middle" >Time (h)</text>
<text x="278.80" y="485.80" font-size="13.6" text-anchor="middle" transform="rotate(-90 278.80 485.80)" >FE<tspan font-size="9.8" dy="3.43">C2H4</tspan><tspan dy="-3.43"> (%)</tspan></text>
<text x="689.50" y="485.40" font-size="13.8" text-anchor="middle" transform="rotate(-90 689.50 485.40)" >Current density (mA/cm<tspan font-size="8.4" dy="-4.62">2</tspan><tspan dy="4.62">)</tspan></text>
<text x="258.00" y="423.40" font-size="19.5" text-anchor="start" >h</text>
</svg>
</body></html>
